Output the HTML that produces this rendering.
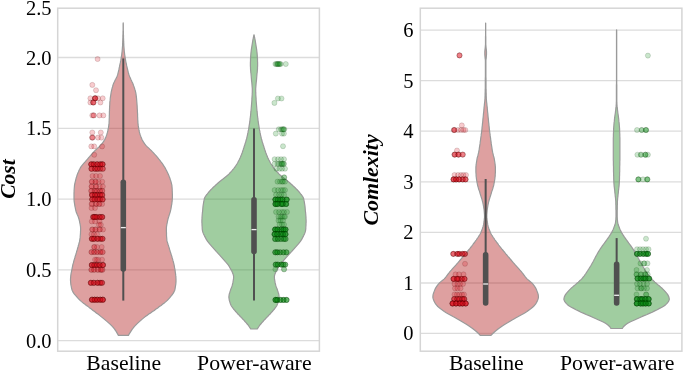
<!DOCTYPE html>
<html><head><meta charset="utf-8"><title>Violin plots</title>
<style>html,body{margin:0;padding:0;background:#fff;}body{width:685px;height:371px;overflow:hidden;font-family:"Liberation Serif",serif;}svg{display:block;}</style>
</head><body>
<svg width="685" height="371" viewBox="0 0 685 371">
<rect width="685" height="371" fill="#fff"/>
<line x1="57.7" x2="319.4" y1="57.5" y2="57.5" stroke="#dcdcdc" stroke-width="1.3"/>
<line x1="57.7" x2="319.4" y1="128.4" y2="128.4" stroke="#dcdcdc" stroke-width="1.3"/>
<line x1="57.7" x2="319.4" y1="199.2" y2="199.2" stroke="#dcdcdc" stroke-width="1.3"/>
<line x1="57.7" x2="319.4" y1="269.9" y2="269.9" stroke="#dcdcdc" stroke-width="1.3"/>
<line x1="57.7" x2="319.4" y1="340.7" y2="340.7" stroke="#dcdcdc" stroke-width="1.3"/>
<line x1="420.3" x2="681.9" y1="30.2" y2="30.2" stroke="#dcdcdc" stroke-width="1.3"/>
<line x1="420.3" x2="681.9" y1="80.7" y2="80.7" stroke="#dcdcdc" stroke-width="1.3"/>
<line x1="420.3" x2="681.9" y1="131.2" y2="131.2" stroke="#dcdcdc" stroke-width="1.3"/>
<line x1="420.3" x2="681.9" y1="181.8" y2="181.8" stroke="#dcdcdc" stroke-width="1.3"/>
<line x1="420.3" x2="681.9" y1="232.4" y2="232.4" stroke="#dcdcdc" stroke-width="1.3"/>
<line x1="420.3" x2="681.9" y1="283.0" y2="283.0" stroke="#dcdcdc" stroke-width="1.3"/>
<line x1="420.3" x2="681.9" y1="333.4" y2="333.4" stroke="#dcdcdc" stroke-width="1.3"/>
<path d="M123.2,22.9 L123.3,24.1 L123.3,25.4 L123.3,26.6 L123.3,27.9 L123.3,29.1 L123.3,30.4 L123.4,31.6 L123.4,32.9 L123.4,34.1 L123.5,35.4 L123.5,36.6 L123.5,37.9 L123.6,39.1 L123.6,40.4 L123.7,41.6 L123.7,42.9 L123.8,44.1 L123.8,45.4 L123.9,46.6 L124.0,47.9 L124.1,49.1 L124.2,50.4 L124.3,51.6 L124.5,52.9 L124.6,54.1 L124.8,55.4 L125.0,56.6 L125.2,57.9 L125.4,59.1 L125.6,60.4 L125.8,61.6 L126.1,62.9 L126.4,64.2 L126.6,65.4 L126.9,66.7 L127.2,67.9 L127.5,69.2 L127.8,70.4 L128.1,71.7 L128.4,72.9 L128.8,74.2 L129.2,75.4 L129.7,76.7 L130.3,77.9 L130.8,79.2 L131.4,80.4 L132.0,81.7 L132.6,82.9 L133.1,84.2 L133.5,85.4 L134.0,86.7 L134.4,87.9 L134.8,89.2 L135.2,90.4 L135.5,91.7 L135.8,92.9 L136.0,94.2 L136.2,95.4 L136.3,96.7 L136.5,97.9 L136.6,99.2 L136.7,100.4 L136.8,101.7 L136.9,102.9 L137.0,104.2 L137.1,105.4 L137.2,106.7 L137.2,107.9 L137.3,109.2 L137.4,110.4 L137.4,111.7 L137.5,112.9 L137.6,114.2 L137.6,115.4 L137.6,116.7 L137.7,117.9 L137.7,119.2 L137.8,120.4 L137.9,121.7 L137.9,122.9 L138.1,124.2 L138.2,125.4 L138.4,126.7 L138.6,127.9 L138.8,129.2 L139.1,130.4 L139.3,131.7 L139.6,132.9 L140.0,134.2 L140.4,135.4 L140.9,136.7 L141.4,137.9 L141.9,139.2 L142.5,140.4 L143.2,141.7 L144.0,142.9 L144.9,144.2 L145.8,145.4 L147.1,146.7 L148.5,147.9 L149.8,149.2 L151.1,150.4 L152.3,151.7 L153.5,152.9 L154.6,154.2 L155.8,155.4 L156.9,156.7 L157.9,157.9 L158.9,159.2 L159.9,160.4 L160.8,161.7 L161.8,162.9 L162.7,164.2 L163.5,165.4 L164.3,166.7 L165.1,167.9 L165.8,169.2 L166.4,170.4 L167.1,171.7 L167.7,172.9 L168.3,174.2 L168.8,175.4 L169.3,176.7 L169.8,177.9 L170.2,179.2 L170.6,180.4 L171.0,181.7 L171.3,182.9 L171.6,184.2 L171.9,185.4 L172.0,186.7 L172.1,187.9 L172.2,189.2 L172.2,190.4 L172.3,191.7 L172.3,192.9 L172.4,194.2 L172.4,195.4 L172.4,196.7 L172.4,197.9 L172.3,199.2 L172.2,200.4 L172.1,201.7 L171.9,202.9 L171.8,204.2 L171.5,205.4 L171.3,206.7 L171.1,207.9 L170.9,209.2 L170.6,210.4 L170.3,211.7 L169.9,212.9 L169.5,214.2 L169.1,215.4 L168.7,216.7 L168.3,217.9 L168.0,219.2 L167.7,220.4 L167.4,221.7 L167.2,222.9 L166.9,224.2 L166.7,225.4 L166.5,226.7 L166.4,227.9 L166.4,229.2 L166.4,230.4 L166.4,231.7 L166.5,232.9 L166.5,234.2 L166.5,235.4 L166.6,236.7 L166.7,237.9 L166.8,239.2 L166.9,240.4 L167.2,241.7 L167.6,242.9 L168.0,244.2 L168.4,245.4 L168.8,246.7 L169.2,247.9 L169.5,249.2 L169.9,250.4 L170.3,251.7 L170.7,252.9 L171.1,254.2 L171.5,255.4 L171.9,256.6 L172.2,257.9 L172.6,259.1 L172.9,260.4 L173.3,261.6 L173.6,262.9 L173.9,264.1 L174.2,265.4 L174.4,266.6 L174.6,267.9 L174.9,269.1 L175.1,270.4 L175.2,271.6 L175.4,272.9 L175.6,274.1 L175.7,275.4 L175.9,276.6 L175.9,277.9 L176.0,279.1 L176.0,280.4 L176.0,281.6 L175.9,282.9 L175.8,284.1 L175.6,285.4 L175.4,286.6 L175.2,287.9 L175.0,289.1 L174.7,290.4 L174.1,291.6 L173.5,292.9 L172.6,294.1 L171.7,295.4 L170.6,296.6 L169.6,297.9 L168.5,299.1 L167.3,300.4 L165.9,301.6 L164.4,302.9 L162.8,304.1 L161.1,305.4 L159.4,306.6 L157.7,307.9 L156.0,309.1 L154.3,310.4 L152.5,311.6 L150.6,312.9 L148.8,314.1 L147.0,315.4 L145.3,316.6 L143.7,317.9 L142.2,319.1 L140.8,320.4 L139.4,321.6 L138.0,322.9 L136.7,324.1 L135.5,325.4 L134.3,326.6 L133.3,327.9 L132.3,329.1 L131.5,330.4 L130.7,331.6 L129.9,332.9 L129.1,334.1 L128.4,335.4 L118.4,335.4 L117.7,334.1 L117.0,332.9 L116.3,331.6 L115.4,330.4 L114.6,329.1 L113.6,327.9 L112.5,326.6 L111.3,325.4 L110.0,324.1 L108.6,322.9 L107.2,321.6 L105.7,320.4 L104.2,319.1 L102.7,317.9 L101.1,316.6 L99.6,315.4 L97.9,314.1 L96.3,312.9 L94.6,311.6 L93.0,310.4 L91.3,309.1 L89.7,307.9 L88.1,306.6 L86.4,305.4 L84.7,304.1 L83.1,302.9 L81.5,301.6 L80.1,300.4 L78.8,299.1 L77.7,297.9 L76.6,296.6 L75.5,295.4 L74.4,294.1 L73.5,292.9 L72.8,291.6 L72.2,290.4 L71.8,289.1 L71.5,287.9 L71.3,286.6 L71.0,285.4 L70.8,284.1 L70.7,282.9 L70.6,281.6 L70.5,280.4 L70.5,279.1 L70.6,277.9 L70.7,276.6 L70.8,275.4 L71.0,274.1 L71.2,272.9 L71.5,271.6 L71.7,270.4 L72.0,269.1 L72.2,267.9 L72.5,266.6 L72.7,265.4 L73.0,264.1 L73.4,262.9 L73.7,261.6 L74.0,260.4 L74.4,259.1 L74.8,257.9 L75.1,256.6 L75.5,255.4 L75.9,254.2 L76.3,252.9 L76.6,251.7 L77.0,250.4 L77.4,249.2 L77.7,247.9 L78.1,246.7 L78.4,245.4 L78.8,244.2 L79.1,242.9 L79.5,241.7 L79.7,240.4 L79.9,239.2 L80.1,237.9 L80.2,236.7 L80.3,235.4 L80.4,234.2 L80.5,232.9 L80.5,231.7 L80.6,230.4 L80.6,229.2 L80.6,227.9 L80.5,226.7 L80.3,225.4 L80.1,224.2 L79.8,222.9 L79.6,221.7 L79.3,220.4 L79.0,219.2 L78.6,217.9 L78.2,216.7 L77.7,215.4 L77.1,214.2 L76.6,212.9 L76.1,211.7 L75.8,210.4 L75.5,209.2 L75.3,207.9 L75.0,206.7 L74.8,205.4 L74.6,204.2 L74.4,202.9 L74.2,201.7 L74.1,200.4 L74.0,199.2 L74.0,197.9 L74.0,196.7 L74.0,195.4 L74.0,194.2 L74.0,192.9 L74.1,191.7 L74.1,190.4 L74.2,189.2 L74.3,187.9 L74.4,186.7 L74.5,185.4 L74.7,184.2 L75.0,182.9 L75.3,181.7 L75.6,180.4 L75.9,179.2 L76.2,177.9 L76.6,176.7 L77.0,175.4 L77.4,174.2 L77.9,172.9 L78.5,171.7 L79.0,170.4 L79.7,169.2 L80.3,167.9 L81.1,166.7 L82.1,165.4 L83.1,164.2 L84.2,162.9 L85.3,161.7 L86.4,160.4 L87.5,159.2 L88.5,157.9 L89.6,156.7 L90.7,155.4 L91.8,154.2 L92.9,152.9 L94.0,151.7 L95.2,150.4 L96.5,149.2 L97.8,147.9 L99.3,146.7 L100.5,145.4 L101.6,144.2 L102.6,142.9 L103.5,141.7 L104.2,140.4 L104.9,139.2 L105.5,137.9 L106.0,136.7 L106.5,135.4 L106.9,134.2 L107.3,132.9 L107.6,131.7 L107.9,130.4 L108.1,129.2 L108.4,127.9 L108.6,126.7 L108.8,125.4 L109.0,124.2 L109.1,122.9 L109.1,121.7 L109.2,120.4 L109.2,119.2 L109.3,117.9 L109.3,116.7 L109.3,115.4 L109.4,114.2 L109.4,112.9 L109.4,111.7 L109.5,110.4 L109.5,109.2 L109.6,107.9 L109.6,106.7 L109.7,105.4 L109.8,104.2 L109.8,102.9 L109.9,101.7 L110.1,100.4 L110.2,99.2 L110.3,97.9 L110.5,96.7 L110.7,95.4 L110.9,94.2 L111.1,92.9 L111.3,91.7 L111.6,90.4 L111.9,89.2 L112.2,87.9 L112.6,86.7 L112.9,85.4 L113.3,84.2 L113.8,82.9 L114.4,81.7 L115.0,80.4 L115.7,79.2 L116.3,77.9 L116.9,76.7 L117.4,75.4 L117.8,74.2 L118.1,72.9 L118.4,71.7 L118.7,70.4 L119.0,69.2 L119.2,67.9 L119.5,66.7 L119.7,65.4 L120.0,64.2 L120.3,62.9 L120.5,61.6 L120.8,60.4 L121.0,59.1 L121.2,57.9 L121.4,56.6 L121.6,55.4 L121.8,54.1 L121.9,52.9 L122.1,51.6 L122.2,50.4 L122.3,49.1 L122.4,47.9 L122.5,46.6 L122.6,45.4 L122.6,44.1 L122.7,42.9 L122.7,41.6 L122.8,40.4 L122.8,39.1 L122.9,37.9 L122.9,36.6 L122.9,35.4 L123.0,34.1 L123.0,32.9 L123.0,31.6 L123.1,30.4 L123.1,29.1 L123.1,27.9 L123.1,26.6 L123.1,25.4 L123.1,24.1 L123.2,22.9Z" fill="rgb(178,34,34)" fill-opacity="0.43" stroke="#9a9a9a" stroke-width="1.2" stroke-linejoin="round"/>
<path d="M254.1,34.8 L254.3,36.1 L254.6,37.3 L254.8,38.6 L255.1,39.8 L255.3,41.1 L255.5,42.3 L255.7,43.6 L255.9,44.8 L256.1,46.1 L256.3,47.3 L256.5,48.6 L256.7,49.8 L256.8,51.1 L257.0,52.3 L257.1,53.6 L257.2,54.8 L257.3,56.1 L257.4,57.3 L257.5,58.6 L257.5,59.8 L257.5,61.1 L257.6,62.3 L257.6,63.6 L257.6,64.8 L257.6,66.1 L257.5,67.3 L257.5,68.6 L257.4,69.9 L257.3,71.1 L257.2,72.4 L257.0,73.6 L256.9,74.9 L256.8,76.1 L256.7,77.4 L256.6,78.6 L256.5,79.9 L256.4,81.1 L256.2,82.4 L256.1,83.6 L256.0,84.9 L255.9,86.1 L255.8,87.4 L255.7,88.6 L255.7,89.9 L255.7,91.1 L255.7,92.4 L255.8,93.6 L255.8,94.9 L255.9,96.1 L256.0,97.4 L256.1,98.6 L256.1,99.9 L256.2,101.2 L256.3,102.4 L256.4,103.7 L256.5,104.9 L256.6,106.2 L256.7,107.4 L256.8,108.7 L256.9,109.9 L257.0,111.2 L257.2,112.4 L257.3,113.7 L257.4,114.9 L257.5,116.2 L257.7,117.4 L257.8,118.7 L258.0,119.9 L258.1,121.2 L258.3,122.4 L258.5,123.7 L258.7,124.9 L258.9,126.2 L259.1,127.4 L259.3,128.7 L259.5,129.9 L259.8,131.2 L260.0,132.4 L260.3,133.7 L260.5,135.0 L260.8,136.2 L261.1,137.5 L261.4,138.7 L261.8,140.0 L262.1,141.2 L262.5,142.5 L262.9,143.7 L263.3,145.0 L263.7,146.2 L264.1,147.5 L264.5,148.7 L264.9,150.0 L265.3,151.2 L265.7,152.5 L266.2,153.7 L266.7,155.0 L267.2,156.2 L267.7,157.5 L268.3,158.7 L268.9,160.0 L269.6,161.2 L270.2,162.5 L270.9,163.7 L271.7,165.0 L272.5,166.3 L273.5,167.5 L274.4,168.8 L275.5,170.0 L276.5,171.3 L277.7,172.5 L278.9,173.8 L280.1,175.0 L281.6,176.3 L283.1,177.5 L284.7,178.8 L286.3,180.0 L287.9,181.3 L289.4,182.5 L290.8,183.8 L292.2,185.0 L293.5,186.3 L294.9,187.5 L296.2,188.8 L297.4,190.0 L298.6,191.3 L299.6,192.5 L300.6,193.8 L301.6,195.0 L302.5,196.3 L303.2,197.5 L303.7,198.8 L303.9,200.1 L304.2,201.3 L304.4,202.6 L304.6,203.8 L304.8,205.1 L305.0,206.3 L305.1,207.6 L305.2,208.8 L305.3,210.1 L305.4,211.3 L305.6,212.6 L305.7,213.8 L305.8,215.1 L305.9,216.3 L306.0,217.6 L306.0,218.8 L306.1,220.1 L306.1,221.3 L306.1,222.6 L306.0,223.8 L306.0,225.1 L305.9,226.3 L305.8,227.6 L305.8,228.8 L305.6,230.1 L305.4,231.4 L305.0,232.6 L304.5,233.9 L303.9,235.1 L303.3,236.4 L302.6,237.6 L302.0,238.9 L301.2,240.1 L300.4,241.4 L299.4,242.6 L298.4,243.9 L297.3,245.1 L296.2,246.4 L295.1,247.6 L294.0,248.9 L292.9,250.1 L291.8,251.4 L290.6,252.6 L289.5,253.9 L288.3,255.1 L287.2,256.4 L286.1,257.6 L285.0,258.9 L283.9,260.1 L282.8,261.4 L281.7,262.6 L280.6,263.9 L279.6,265.2 L278.8,266.4 L278.1,267.7 L277.4,268.9 L276.7,270.2 L276.0,271.4 L275.5,272.7 L275.0,273.9 L274.6,275.2 L274.4,276.4 L274.4,277.7 L274.5,278.9 L274.7,280.2 L274.9,281.4 L275.1,282.7 L275.4,283.9 L275.7,285.2 L276.1,286.4 L276.6,287.7 L277.1,288.9 L277.5,290.2 L277.9,291.4 L278.3,292.7 L278.7,293.9 L278.9,295.2 L279.1,296.5 L279.1,297.7 L278.9,299.0 L278.7,300.2 L278.3,301.5 L277.9,302.7 L277.5,304.0 L277.0,305.2 L276.3,306.5 L275.4,307.7 L274.5,309.0 L273.4,310.2 L272.3,311.5 L271.2,312.7 L270.1,314.0 L268.9,315.2 L267.7,316.5 L266.5,317.7 L265.3,319.0 L264.1,320.2 L263.0,321.5 L261.9,322.7 L260.8,324.0 L259.8,325.2 L258.9,326.5 L258.1,327.7 L257.3,329.0 L250.7,329.0 L249.9,327.7 L249.1,326.5 L248.2,325.2 L247.2,324.0 L246.1,322.7 L245.0,321.5 L243.9,320.2 L242.7,319.0 L241.5,317.7 L240.3,316.5 L239.1,315.2 L237.9,314.0 L236.8,312.7 L235.7,311.5 L234.6,310.2 L233.5,309.0 L232.6,307.7 L231.7,306.5 L231.0,305.2 L230.5,304.0 L230.1,302.7 L229.7,301.5 L229.3,300.2 L229.1,299.0 L228.9,297.7 L228.9,296.5 L229.1,295.2 L229.3,293.9 L229.7,292.7 L230.1,291.4 L230.5,290.2 L230.9,288.9 L231.4,287.7 L231.9,286.4 L232.3,285.2 L232.6,283.9 L232.9,282.7 L233.1,281.4 L233.3,280.2 L233.5,278.9 L233.6,277.7 L233.6,276.4 L233.4,275.2 L233.0,273.9 L232.5,272.7 L232.0,271.4 L231.3,270.2 L230.6,268.9 L229.9,267.7 L229.2,266.4 L228.4,265.2 L227.4,263.9 L226.3,262.6 L225.2,261.4 L224.1,260.1 L223.0,258.9 L221.9,257.6 L220.8,256.4 L219.7,255.1 L218.5,253.9 L217.4,252.6 L216.2,251.4 L215.1,250.1 L214.0,248.9 L212.9,247.6 L211.8,246.4 L210.7,245.1 L209.6,243.9 L208.6,242.6 L207.6,241.4 L206.8,240.1 L206.0,238.9 L205.4,237.6 L204.7,236.4 L204.1,235.1 L203.5,233.9 L203.0,232.6 L202.6,231.4 L202.4,230.1 L202.2,228.8 L202.2,227.6 L202.1,226.3 L202.0,225.1 L202.0,223.8 L201.9,222.6 L201.9,221.3 L201.9,220.1 L202.0,218.8 L202.0,217.6 L202.1,216.3 L202.2,215.1 L202.3,213.8 L202.4,212.6 L202.6,211.3 L202.7,210.1 L202.8,208.8 L202.9,207.6 L203.0,206.3 L203.2,205.1 L203.4,203.8 L203.6,202.6 L203.8,201.3 L204.1,200.1 L204.3,198.8 L204.8,197.5 L205.5,196.3 L206.4,195.0 L207.4,193.8 L208.4,192.5 L209.4,191.3 L210.6,190.0 L211.8,188.8 L213.1,187.5 L214.5,186.3 L215.8,185.0 L217.2,183.8 L218.6,182.5 L220.1,181.3 L221.7,180.0 L223.3,178.8 L224.9,177.5 L226.4,176.3 L227.9,175.0 L229.1,173.8 L230.3,172.5 L231.5,171.3 L232.5,170.0 L233.6,168.8 L234.5,167.5 L235.5,166.3 L236.3,165.0 L237.1,163.7 L237.8,162.5 L238.4,161.2 L239.1,160.0 L239.7,158.7 L240.3,157.5 L240.8,156.2 L241.3,155.0 L241.8,153.7 L242.3,152.5 L242.7,151.2 L243.1,150.0 L243.5,148.7 L243.9,147.5 L244.3,146.2 L244.7,145.0 L245.1,143.7 L245.5,142.5 L245.9,141.2 L246.2,140.0 L246.6,138.7 L246.9,137.5 L247.2,136.2 L247.5,135.0 L247.7,133.7 L248.0,132.4 L248.2,131.2 L248.5,129.9 L248.7,128.7 L248.9,127.4 L249.1,126.2 L249.3,124.9 L249.5,123.7 L249.7,122.4 L249.9,121.2 L250.0,119.9 L250.2,118.7 L250.3,117.4 L250.5,116.2 L250.6,114.9 L250.7,113.7 L250.8,112.4 L251.0,111.2 L251.1,109.9 L251.2,108.7 L251.3,107.4 L251.4,106.2 L251.5,104.9 L251.6,103.7 L251.7,102.4 L251.8,101.2 L251.9,99.9 L251.9,98.6 L252.0,97.4 L252.1,96.1 L252.2,94.9 L252.2,93.6 L252.3,92.4 L252.3,91.1 L252.3,89.9 L252.3,88.6 L252.2,87.4 L252.1,86.1 L252.0,84.9 L251.9,83.6 L251.8,82.4 L251.6,81.1 L251.5,79.9 L251.4,78.6 L251.3,77.4 L251.2,76.1 L251.1,74.9 L251.0,73.6 L250.8,72.4 L250.7,71.1 L250.6,69.9 L250.5,68.6 L250.5,67.3 L250.4,66.1 L250.4,64.8 L250.4,63.6 L250.4,62.3 L250.5,61.1 L250.5,59.8 L250.5,58.6 L250.6,57.3 L250.7,56.1 L250.8,54.8 L250.9,53.6 L251.0,52.3 L251.2,51.1 L251.3,49.8 L251.5,48.6 L251.7,47.3 L251.9,46.1 L252.1,44.8 L252.3,43.6 L252.5,42.3 L252.7,41.1 L252.9,39.8 L253.2,38.6 L253.4,37.3 L253.7,36.1 L253.9,34.8Z" fill="rgb(34,139,34)" fill-opacity="0.43" stroke="#9a9a9a" stroke-width="1.2" stroke-linejoin="round"/>
<path d="M485.7,23.0 L485.7,24.3 L485.7,25.5 L485.7,26.8 L485.7,28.0 L485.7,29.3 L485.7,30.5 L485.7,31.8 L485.7,33.0 L485.7,34.3 L485.7,35.5 L485.8,36.8 L485.8,38.1 L485.8,39.3 L485.8,40.6 L485.8,41.8 L485.8,43.1 L485.8,44.3 L485.9,45.6 L486.0,46.8 L486.1,48.1 L486.3,49.3 L486.4,50.6 L486.5,51.8 L486.5,53.1 L486.5,54.4 L486.4,55.6 L486.3,56.9 L486.2,58.1 L486.0,59.4 L485.9,60.6 L485.9,61.9 L485.9,63.1 L485.9,64.4 L485.9,65.6 L485.9,66.9 L485.9,68.2 L485.9,69.4 L485.9,70.7 L485.9,71.9 L485.9,73.2 L485.9,74.4 L485.9,75.7 L485.9,76.9 L486.0,78.2 L486.0,79.4 L486.0,80.7 L486.0,81.9 L486.0,83.2 L486.0,84.5 L486.0,85.7 L486.0,87.0 L486.0,88.2 L486.1,89.5 L486.1,90.7 L486.1,92.0 L486.2,93.2 L486.2,94.5 L486.2,95.7 L486.3,97.0 L486.3,98.3 L486.4,99.5 L486.5,100.8 L486.6,102.0 L486.8,103.3 L486.9,104.5 L487.0,105.8 L487.2,107.0 L487.3,108.3 L487.4,109.5 L487.5,110.8 L487.6,112.0 L487.8,113.3 L487.9,114.6 L488.0,115.8 L488.1,117.1 L488.3,118.3 L488.4,119.6 L488.5,120.8 L488.6,122.1 L488.8,123.3 L488.9,124.6 L489.0,125.8 L489.2,127.1 L489.3,128.4 L489.4,129.6 L489.6,130.9 L489.7,132.1 L489.9,133.4 L490.1,134.6 L490.2,135.9 L490.4,137.1 L490.6,138.4 L490.7,139.6 L490.9,140.9 L491.1,142.2 L491.2,143.4 L491.4,144.7 L491.6,145.9 L491.8,147.2 L492.0,148.4 L492.1,149.7 L492.4,150.9 L492.6,152.2 L492.9,153.4 L493.2,154.7 L493.5,155.9 L493.9,157.2 L494.2,158.5 L494.4,159.7 L494.6,161.0 L494.8,162.2 L495.0,163.5 L495.1,164.7 L495.3,166.0 L495.4,167.2 L495.4,168.5 L495.4,169.7 L495.4,171.0 L495.4,172.3 L495.3,173.5 L495.2,174.8 L495.2,176.0 L495.0,177.3 L494.9,178.5 L494.7,179.8 L494.5,181.0 L494.3,182.3 L494.0,183.5 L493.8,184.8 L493.5,186.0 L493.1,187.3 L492.8,188.6 L492.4,189.8 L491.9,191.1 L491.5,192.3 L491.2,193.6 L490.8,194.8 L490.4,196.1 L490.0,197.3 L489.6,198.6 L489.2,199.8 L488.9,201.1 L488.5,202.4 L488.3,203.6 L488.0,204.9 L487.8,206.1 L487.6,207.4 L487.4,208.6 L487.2,209.9 L487.1,211.1 L487.0,212.4 L486.9,213.6 L486.8,214.9 L486.8,216.1 L486.8,217.4 L486.9,218.7 L487.1,219.9 L487.2,221.2 L487.4,222.4 L487.6,223.7 L487.8,224.9 L488.1,226.2 L488.5,227.4 L488.9,228.7 L489.4,229.9 L489.9,231.2 L490.4,232.5 L491.0,233.7 L491.7,235.0 L492.5,236.2 L493.3,237.5 L494.2,238.7 L495.0,240.0 L495.9,241.2 L496.8,242.5 L497.8,243.7 L498.7,245.0 L499.7,246.3 L500.7,247.5 L501.7,248.8 L502.7,250.0 L503.8,251.3 L504.8,252.5 L505.8,253.8 L506.9,255.0 L507.9,256.3 L509.0,257.5 L510.1,258.8 L511.1,260.0 L512.2,261.3 L513.3,262.6 L514.4,263.8 L515.5,265.1 L516.6,266.3 L517.8,267.6 L518.9,268.8 L520.0,270.1 L521.1,271.3 L522.1,272.6 L523.1,273.8 L524.0,275.1 L524.9,276.4 L525.9,277.6 L527.0,278.9 L528.4,280.1 L530.1,281.4 L531.6,282.6 L532.7,283.9 L533.7,285.1 L534.6,286.4 L535.4,287.6 L536.1,288.9 L536.6,290.1 L537.1,291.4 L537.6,292.7 L538.0,293.9 L538.3,295.2 L538.4,296.4 L538.4,297.7 L538.1,298.9 L537.6,300.2 L537.1,301.4 L536.4,302.7 L535.7,303.9 L534.7,305.2 L533.5,306.5 L532.0,307.7 L530.4,309.0 L528.7,310.2 L527.0,311.5 L525.1,312.7 L522.9,314.0 L520.6,315.2 L518.3,316.5 L516.0,317.7 L513.9,319.0 L511.7,320.2 L509.6,321.5 L507.5,322.8 L505.4,324.0 L503.4,325.3 L501.6,326.5 L499.8,327.8 L498.1,329.0 L496.5,330.3 L495.0,331.5 L493.6,332.8 L492.3,334.0 L491.0,335.3 L480.2,335.3 L479.0,334.0 L477.7,332.8 L476.3,331.5 L474.8,330.3 L473.2,329.0 L471.5,327.8 L469.7,326.5 L467.9,325.3 L465.9,324.0 L463.8,322.8 L461.7,321.5 L459.6,320.2 L457.4,319.0 L455.3,317.7 L453.0,316.5 L450.7,315.2 L448.4,314.0 L446.2,312.7 L444.3,311.5 L442.6,310.2 L440.9,309.0 L439.3,307.7 L437.8,306.5 L436.6,305.2 L435.6,303.9 L434.9,302.7 L434.2,301.4 L433.7,300.2 L433.2,298.9 L432.9,297.7 L432.9,296.4 L433.0,295.2 L433.3,293.9 L433.7,292.7 L434.2,291.4 L434.7,290.1 L435.2,288.9 L435.9,287.6 L436.7,286.4 L437.6,285.1 L438.6,283.9 L439.7,282.6 L441.2,281.4 L442.9,280.1 L444.3,278.9 L445.4,277.6 L446.4,276.4 L447.3,275.1 L448.2,273.8 L449.2,272.6 L450.2,271.3 L451.3,270.1 L452.4,268.8 L453.5,267.6 L454.7,266.3 L455.8,265.1 L456.9,263.8 L458.0,262.6 L459.1,261.3 L460.2,260.0 L461.2,258.8 L462.3,257.5 L463.4,256.3 L464.4,255.0 L465.5,253.8 L466.5,252.5 L467.5,251.3 L468.6,250.0 L469.6,248.8 L470.6,247.5 L471.6,246.3 L472.6,245.0 L473.5,243.7 L474.5,242.5 L475.4,241.2 L476.3,240.0 L477.1,238.7 L478.0,237.5 L478.8,236.2 L479.6,235.0 L480.3,233.7 L480.9,232.5 L481.4,231.2 L481.9,229.9 L482.4,228.7 L482.8,227.4 L483.2,226.2 L483.5,224.9 L483.7,223.7 L483.9,222.4 L484.1,221.2 L484.2,219.9 L484.4,218.7 L484.5,217.4 L484.5,216.1 L484.5,214.9 L484.4,213.6 L484.3,212.4 L484.2,211.1 L484.1,209.9 L483.9,208.6 L483.7,207.4 L483.5,206.1 L483.3,204.9 L483.0,203.6 L482.8,202.4 L482.4,201.1 L482.1,199.8 L481.7,198.6 L481.3,197.3 L480.9,196.1 L480.5,194.8 L480.1,193.6 L479.8,192.3 L479.4,191.1 L478.9,189.8 L478.5,188.6 L478.2,187.3 L477.8,186.0 L477.5,184.8 L477.3,183.5 L477.0,182.3 L476.8,181.0 L476.6,179.8 L476.4,178.5 L476.3,177.3 L476.1,176.0 L476.1,174.8 L476.0,173.5 L475.9,172.3 L475.9,171.0 L475.9,169.7 L475.9,168.5 L475.9,167.2 L476.0,166.0 L476.2,164.7 L476.3,163.5 L476.5,162.2 L476.7,161.0 L476.9,159.7 L477.1,158.5 L477.4,157.2 L477.8,155.9 L478.1,154.7 L478.4,153.4 L478.7,152.2 L478.9,150.9 L479.2,149.7 L479.3,148.4 L479.5,147.2 L479.7,145.9 L479.9,144.7 L480.1,143.4 L480.2,142.2 L480.4,140.9 L480.6,139.6 L480.7,138.4 L480.9,137.1 L481.1,135.9 L481.2,134.6 L481.4,133.4 L481.6,132.1 L481.7,130.9 L481.9,129.6 L482.0,128.4 L482.1,127.1 L482.3,125.8 L482.4,124.6 L482.5,123.3 L482.7,122.1 L482.8,120.8 L482.9,119.6 L483.0,118.3 L483.2,117.1 L483.3,115.8 L483.4,114.6 L483.5,113.3 L483.7,112.0 L483.8,110.8 L483.9,109.5 L484.0,108.3 L484.1,107.0 L484.3,105.8 L484.4,104.5 L484.5,103.3 L484.7,102.0 L484.8,100.8 L484.9,99.5 L485.0,98.3 L485.0,97.0 L485.1,95.7 L485.1,94.5 L485.1,93.2 L485.2,92.0 L485.2,90.7 L485.2,89.5 L485.3,88.2 L485.3,87.0 L485.3,85.7 L485.3,84.5 L485.3,83.2 L485.3,81.9 L485.3,80.7 L485.3,79.4 L485.3,78.2 L485.4,76.9 L485.4,75.7 L485.4,74.4 L485.4,73.2 L485.4,71.9 L485.4,70.7 L485.4,69.4 L485.4,68.2 L485.4,66.9 L485.4,65.6 L485.4,64.4 L485.4,63.1 L485.4,61.9 L485.4,60.6 L485.3,59.4 L485.1,58.1 L485.0,56.9 L484.9,55.6 L484.8,54.4 L484.8,53.1 L484.8,51.8 L484.9,50.6 L485.0,49.3 L485.2,48.1 L485.3,46.8 L485.4,45.6 L485.5,44.3 L485.5,43.1 L485.5,41.8 L485.5,40.6 L485.5,39.3 L485.5,38.1 L485.5,36.8 L485.6,35.5 L485.6,34.3 L485.6,33.0 L485.6,31.8 L485.6,30.5 L485.6,29.3 L485.6,28.0 L485.6,26.8 L485.6,25.5 L485.6,24.3 L485.6,23.0Z" fill="rgb(178,34,34)" fill-opacity="0.43" stroke="#9a9a9a" stroke-width="1.2" stroke-linejoin="round"/>
<path d="M616.6,29.8 L616.7,31.1 L616.7,32.3 L616.7,33.6 L616.7,34.8 L616.7,36.1 L616.7,37.3 L616.7,38.6 L616.7,39.8 L616.7,41.1 L616.7,42.4 L616.7,43.6 L616.7,44.9 L616.7,46.1 L616.7,47.4 L616.7,48.6 L616.7,49.9 L616.7,51.1 L616.7,52.4 L616.7,53.6 L616.7,54.9 L616.7,56.2 L616.7,57.4 L616.7,58.7 L616.7,59.9 L616.7,61.2 L616.7,62.4 L616.7,63.7 L616.7,64.9 L616.7,66.2 L616.7,67.5 L616.7,68.7 L616.7,70.0 L616.7,71.2 L616.7,72.5 L616.7,73.7 L616.7,75.0 L616.7,76.2 L616.7,77.5 L616.7,78.7 L616.7,80.0 L616.7,81.3 L616.7,82.5 L616.7,83.8 L616.8,85.0 L616.8,86.3 L616.8,87.5 L616.8,88.8 L616.8,90.0 L616.8,91.3 L616.8,92.6 L616.8,93.8 L616.8,95.1 L616.8,96.3 L616.8,97.6 L616.8,98.8 L616.8,100.1 L616.8,101.3 L616.9,102.6 L616.9,103.8 L617.0,105.1 L617.1,106.4 L617.3,107.6 L617.4,108.9 L617.5,110.1 L617.7,111.4 L617.8,112.6 L618.0,113.9 L618.2,115.1 L618.4,116.4 L618.5,117.7 L618.7,118.9 L618.8,120.2 L618.9,121.4 L619.1,122.7 L619.2,123.9 L619.3,125.2 L619.4,126.4 L619.5,127.7 L619.6,128.9 L619.6,130.2 L619.7,131.5 L619.7,132.7 L619.8,134.0 L619.8,135.2 L619.8,136.5 L619.9,137.7 L619.9,139.0 L619.9,140.2 L619.9,141.5 L619.9,142.8 L619.9,144.0 L619.9,145.3 L619.9,146.5 L619.9,147.8 L619.9,149.0 L619.9,150.3 L619.9,151.5 L619.9,152.8 L619.9,154.0 L619.9,155.3 L619.9,156.6 L619.9,157.8 L619.9,159.1 L619.9,160.3 L619.8,161.6 L619.8,162.8 L619.8,164.1 L619.8,165.3 L619.7,166.6 L619.7,167.9 L619.7,169.1 L619.7,170.4 L619.7,171.6 L619.6,172.9 L619.6,174.1 L619.6,175.4 L619.5,176.6 L619.5,177.9 L619.5,179.2 L619.4,180.4 L619.4,181.7 L619.3,182.9 L619.2,184.2 L619.1,185.4 L619.0,186.7 L618.8,187.9 L618.7,189.2 L618.5,190.4 L618.4,191.7 L618.3,193.0 L618.1,194.2 L618.0,195.5 L617.9,196.7 L617.7,198.0 L617.6,199.2 L617.5,200.5 L617.4,201.7 L617.4,203.0 L617.4,204.3 L617.3,205.5 L617.3,206.8 L617.3,208.0 L617.3,209.3 L617.2,210.5 L617.2,211.8 L617.2,213.0 L617.2,214.3 L617.2,215.5 L617.2,216.8 L617.3,218.1 L617.3,219.3 L617.5,220.6 L617.6,221.8 L617.8,223.1 L618.1,224.3 L618.5,225.6 L619.0,226.8 L619.5,228.1 L620.0,229.4 L620.6,230.6 L621.2,231.9 L621.9,233.1 L622.7,234.4 L623.5,235.6 L624.3,236.9 L625.2,238.1 L626.1,239.4 L627.0,240.6 L627.9,241.9 L628.8,243.2 L629.7,244.4 L630.7,245.7 L631.5,246.9 L632.4,248.2 L633.2,249.4 L634.0,250.7 L634.8,251.9 L635.6,253.2 L636.3,254.5 L637.0,255.7 L637.7,257.0 L638.3,258.2 L639.0,259.5 L639.6,260.7 L640.3,262.0 L641.0,263.2 L641.7,264.5 L642.4,265.7 L643.2,267.0 L644.0,268.3 L644.8,269.5 L645.6,270.8 L646.4,272.0 L647.2,273.3 L648.1,274.5 L649.0,275.8 L649.9,277.0 L651.0,278.3 L652.2,279.6 L653.6,280.8 L654.9,282.1 L656.3,283.3 L657.7,284.6 L659.2,285.8 L660.7,287.1 L662.1,288.3 L663.4,289.6 L664.6,290.8 L665.7,292.1 L666.8,293.4 L667.7,294.6 L668.4,295.9 L668.9,297.1 L669.2,298.4 L669.3,299.6 L668.8,300.9 L668.0,302.1 L667.0,303.4 L665.7,304.7 L664.0,305.9 L661.9,307.2 L659.6,308.4 L657.2,309.7 L654.7,310.9 L652.2,312.2 L649.4,313.4 L646.5,314.7 L643.5,315.9 L640.6,317.2 L637.8,318.5 L635.1,319.7 L632.2,321.0 L629.5,322.2 L627.3,323.5 L625.6,324.7 L624.2,326.0 L623.1,327.2 L622.3,328.5 L610.9,328.5 L610.1,327.2 L609.0,326.0 L607.6,324.7 L605.9,323.5 L603.7,322.2 L601.0,321.0 L598.1,319.7 L595.4,318.5 L592.6,317.2 L589.7,315.9 L586.7,314.7 L583.8,313.4 L581.0,312.2 L578.5,310.9 L576.0,309.7 L573.6,308.4 L571.3,307.2 L569.2,305.9 L567.5,304.7 L566.2,303.4 L565.2,302.1 L564.4,300.9 L563.9,299.6 L564.0,298.4 L564.3,297.1 L564.8,295.9 L565.5,294.6 L566.4,293.4 L567.5,292.1 L568.6,290.8 L569.8,289.6 L571.1,288.3 L572.5,287.1 L574.0,285.8 L575.5,284.6 L576.9,283.3 L578.3,282.1 L579.6,280.8 L581.0,279.6 L582.2,278.3 L583.3,277.0 L584.2,275.8 L585.1,274.5 L586.0,273.3 L586.8,272.0 L587.6,270.8 L588.4,269.5 L589.2,268.3 L590.0,267.0 L590.8,265.7 L591.5,264.5 L592.2,263.2 L592.9,262.0 L593.6,260.7 L594.2,259.5 L594.9,258.2 L595.5,257.0 L596.2,255.7 L596.9,254.5 L597.6,253.2 L598.4,251.9 L599.2,250.7 L600.0,249.4 L600.8,248.2 L601.7,246.9 L602.5,245.7 L603.5,244.4 L604.4,243.2 L605.3,241.9 L606.2,240.6 L607.1,239.4 L608.0,238.1 L608.9,236.9 L609.7,235.6 L610.5,234.4 L611.3,233.1 L612.0,231.9 L612.6,230.6 L613.2,229.4 L613.7,228.1 L614.2,226.8 L614.7,225.6 L615.1,224.3 L615.4,223.1 L615.6,221.8 L615.7,220.6 L615.9,219.3 L615.9,218.1 L616.0,216.8 L616.0,215.5 L616.0,214.3 L616.0,213.0 L616.0,211.8 L616.0,210.5 L615.9,209.3 L615.9,208.0 L615.9,206.8 L615.9,205.5 L615.8,204.3 L615.8,203.0 L615.8,201.7 L615.7,200.5 L615.6,199.2 L615.5,198.0 L615.3,196.7 L615.2,195.5 L615.1,194.2 L614.9,193.0 L614.8,191.7 L614.7,190.4 L614.5,189.2 L614.4,187.9 L614.2,186.7 L614.1,185.4 L614.0,184.2 L613.9,182.9 L613.8,181.7 L613.8,180.4 L613.7,179.2 L613.7,177.9 L613.7,176.6 L613.6,175.4 L613.6,174.1 L613.6,172.9 L613.5,171.6 L613.5,170.4 L613.5,169.1 L613.5,167.9 L613.5,166.6 L613.4,165.3 L613.4,164.1 L613.4,162.8 L613.4,161.6 L613.3,160.3 L613.3,159.1 L613.3,157.8 L613.3,156.6 L613.3,155.3 L613.3,154.0 L613.3,152.8 L613.3,151.5 L613.3,150.3 L613.3,149.0 L613.3,147.8 L613.3,146.5 L613.3,145.3 L613.3,144.0 L613.3,142.8 L613.3,141.5 L613.3,140.2 L613.3,139.0 L613.3,137.7 L613.4,136.5 L613.4,135.2 L613.4,134.0 L613.5,132.7 L613.5,131.5 L613.6,130.2 L613.6,128.9 L613.7,127.7 L613.8,126.4 L613.9,125.2 L614.0,123.9 L614.1,122.7 L614.3,121.4 L614.4,120.2 L614.5,118.9 L614.7,117.7 L614.8,116.4 L615.0,115.1 L615.2,113.9 L615.4,112.6 L615.5,111.4 L615.7,110.1 L615.8,108.9 L615.9,107.6 L616.1,106.4 L616.2,105.1 L616.3,103.8 L616.3,102.6 L616.4,101.3 L616.4,100.1 L616.4,98.8 L616.4,97.6 L616.4,96.3 L616.4,95.1 L616.4,93.8 L616.4,92.6 L616.4,91.3 L616.4,90.0 L616.4,88.8 L616.4,87.5 L616.4,86.3 L616.4,85.0 L616.5,83.8 L616.5,82.5 L616.5,81.3 L616.5,80.0 L616.5,78.7 L616.5,77.5 L616.5,76.2 L616.5,75.0 L616.5,73.7 L616.5,72.5 L616.5,71.2 L616.5,70.0 L616.5,68.7 L616.5,67.5 L616.5,66.2 L616.5,64.9 L616.5,63.7 L616.5,62.4 L616.5,61.2 L616.5,59.9 L616.5,58.7 L616.5,57.4 L616.5,56.2 L616.5,54.9 L616.5,53.6 L616.5,52.4 L616.5,51.1 L616.5,49.9 L616.5,48.6 L616.5,47.4 L616.5,46.1 L616.5,44.9 L616.5,43.6 L616.5,42.4 L616.5,41.1 L616.5,39.8 L616.5,38.6 L616.5,37.3 L616.5,36.1 L616.5,34.8 L616.5,33.6 L616.5,32.3 L616.5,31.1 L616.6,29.8Z" fill="rgb(34,139,34)" fill-opacity="0.43" stroke="#9a9a9a" stroke-width="1.2" stroke-linejoin="round"/>
<line x1="123.3" x2="123.3" y1="58.4" y2="300.6" stroke="#505050" stroke-width="2"/>
<rect x="120.50" y="179.6" width="5.6" height="92.2" rx="2.7" fill="#505050"/>
<line x1="120.80" x2="125.80" y1="227.6" y2="227.6" stroke="#efefef" stroke-width="1.3"/>
<line x1="254.0" x2="254.0" y1="128.5" y2="300.6" stroke="#505050" stroke-width="2"/>
<rect x="251.20" y="197.0" width="5.6" height="57.3" rx="2.7" fill="#505050"/>
<line x1="251.50" x2="256.50" y1="229.6" y2="229.6" stroke="#efefef" stroke-width="1.3"/>
<line x1="485.65" x2="485.65" y1="179" y2="305" stroke="#505050" stroke-width="2"/>
<rect x="482.85" y="252" width="5.6" height="53.8" rx="2.7" fill="#505050"/>
<line x1="483.15" x2="488.15" y1="284.0" y2="284.0" stroke="#efefef" stroke-width="1.3"/>
<line x1="616.65" x2="616.65" y1="238.1" y2="305" stroke="#505050" stroke-width="2"/>
<rect x="613.85" y="261.5" width="5.6" height="44.3" rx="2.7" fill="#505050"/>
<line x1="614.15" x2="619.15" y1="295.3" y2="295.3" stroke="#efefef" stroke-width="1.3"/>
<g fill="rgb(222,20,30)" fill-opacity="0.22" stroke="rgb(60,0,0)" stroke-opacity="0.27" stroke-width="0.55"><circle cx="97.6" cy="59.0" r="2.55"/><circle cx="92.3" cy="84.9" r="2.55"/><circle cx="96.0" cy="90.2" r="2.55"/><circle cx="90.4" cy="98.3" r="2.55"/><circle cx="94.8" cy="98.3" r="2.55"/><circle cx="95.1" cy="98.3" r="2.55"/><circle cx="95.4" cy="98.3" r="2.55"/><circle cx="95.1" cy="98.3" r="2.55"/><circle cx="95.2" cy="98.3" r="2.55"/><circle cx="98.0" cy="98.3" r="2.55"/><circle cx="102.7" cy="98.3" r="2.55"/><circle cx="90.4" cy="102.5" r="2.55"/><circle cx="93.0" cy="102.5" r="2.55"/><circle cx="93.2" cy="102.5" r="2.55"/><circle cx="93.4" cy="102.5" r="2.55"/><circle cx="93.6" cy="102.5" r="2.55"/><circle cx="100.4" cy="102.5" r="2.55"/><circle cx="92.3" cy="115.4" r="2.55"/><circle cx="93.8" cy="115.4" r="2.55"/><circle cx="93.6" cy="115.4" r="2.55"/><circle cx="99.5" cy="115.4" r="2.55"/><circle cx="103.3" cy="115.4" r="2.55"/><circle cx="92.3" cy="132.5" r="2.55"/><circle cx="100.8" cy="132.5" r="2.55"/><circle cx="92.0" cy="137.6" r="2.55"/><circle cx="92.3" cy="137.6" r="2.55"/><circle cx="92.8" cy="137.6" r="2.55"/><circle cx="98.0" cy="137.6" r="2.55"/><circle cx="101.4" cy="137.6" r="2.55"/><circle cx="91.3" cy="146.4" r="2.55"/><circle cx="94.2" cy="146.4" r="2.55"/><circle cx="102.1" cy="146.4" r="2.55"/><circle cx="94.2" cy="154.8" r="2.55"/><circle cx="91.2" cy="164.3" r="2.55"/><circle cx="93.5" cy="164.3" r="2.55"/><circle cx="97.1" cy="164.3" r="2.55"/><circle cx="100.5" cy="164.3" r="2.55"/><circle cx="102.8" cy="164.3" r="2.55"/><circle cx="91.4" cy="164.3" r="2.55"/><circle cx="93.5" cy="164.3" r="2.55"/><circle cx="97.4" cy="164.3" r="2.55"/><circle cx="100.5" cy="164.3" r="2.55"/><circle cx="102.4" cy="164.3" r="2.55"/><circle cx="91.3" cy="164.3" r="2.55"/><circle cx="93.5" cy="164.3" r="2.55"/><circle cx="96.9" cy="164.3" r="2.55"/><circle cx="100.2" cy="164.3" r="2.55"/><circle cx="102.4" cy="164.3" r="2.55"/><circle cx="91.4" cy="164.3" r="2.55"/><circle cx="94.0" cy="164.3" r="2.55"/><circle cx="97.1" cy="164.3" r="2.55"/><circle cx="100.2" cy="164.3" r="2.55"/><circle cx="102.4" cy="164.3" r="2.55"/><circle cx="91.0" cy="164.3" r="2.55"/><circle cx="93.9" cy="164.3" r="2.55"/><circle cx="97.2" cy="164.3" r="2.55"/><circle cx="100.0" cy="164.3" r="2.55"/><circle cx="102.6" cy="164.3" r="2.55"/><circle cx="91.8" cy="168.8" r="2.55"/><circle cx="95.2" cy="168.8" r="2.55"/><circle cx="97.4" cy="168.8" r="2.55"/><circle cx="99.9" cy="168.8" r="2.55"/><circle cx="103.0" cy="168.8" r="2.55"/><circle cx="91.3" cy="168.8" r="2.55"/><circle cx="94.9" cy="168.8" r="2.55"/><circle cx="97.2" cy="168.8" r="2.55"/><circle cx="100.0" cy="168.8" r="2.55"/><circle cx="102.5" cy="168.8" r="2.55"/><circle cx="91.4" cy="168.8" r="2.55"/><circle cx="95.1" cy="168.8" r="2.55"/><circle cx="97.7" cy="168.8" r="2.55"/><circle cx="100.3" cy="168.8" r="2.55"/><circle cx="102.8" cy="168.8" r="2.55"/><circle cx="91.6" cy="168.8" r="2.55"/><circle cx="94.9" cy="168.8" r="2.55"/><circle cx="97.3" cy="168.8" r="2.55"/><circle cx="92.5" cy="176.0" r="2.55"/><circle cx="96.0" cy="176.0" r="2.55"/><circle cx="100.0" cy="176.0" r="2.55"/><circle cx="91.8" cy="181.7" r="2.55"/><circle cx="95.6" cy="181.7" r="2.55"/><circle cx="98.5" cy="181.7" r="2.55"/><circle cx="102.2" cy="181.7" r="2.55"/><circle cx="91.9" cy="181.7" r="2.55"/><circle cx="95.6" cy="181.7" r="2.55"/><circle cx="91.7" cy="186.5" r="2.55"/><circle cx="95.9" cy="186.5" r="2.55"/><circle cx="99.7" cy="186.5" r="2.55"/><circle cx="102.8" cy="186.5" r="2.55"/><circle cx="91.6" cy="186.5" r="2.55"/><circle cx="96.1" cy="186.5" r="2.55"/><circle cx="91.2" cy="190.9" r="2.55"/><circle cx="94.8" cy="190.9" r="2.55"/><circle cx="97.0" cy="190.9" r="2.55"/><circle cx="100.0" cy="190.9" r="2.55"/><circle cx="102.2" cy="190.9" r="2.55"/><circle cx="91.4" cy="190.9" r="2.55"/><circle cx="94.5" cy="190.9" r="2.55"/><circle cx="96.8" cy="190.9" r="2.55"/><circle cx="100.1" cy="190.9" r="2.55"/><circle cx="102.3" cy="190.9" r="2.55"/><circle cx="92.2" cy="195.0" r="2.55"/><circle cx="94.9" cy="195.0" r="2.55"/><circle cx="97.4" cy="195.0" r="2.55"/><circle cx="100.1" cy="195.0" r="2.55"/><circle cx="102.3" cy="195.0" r="2.55"/><circle cx="92.1" cy="195.0" r="2.55"/><circle cx="95.0" cy="195.0" r="2.55"/><circle cx="97.3" cy="195.0" r="2.55"/><circle cx="100.1" cy="195.0" r="2.55"/><circle cx="102.5" cy="195.0" r="2.55"/><circle cx="91.9" cy="195.0" r="2.55"/><circle cx="94.9" cy="195.0" r="2.55"/><circle cx="97.2" cy="195.0" r="2.55"/><circle cx="100.1" cy="195.0" r="2.55"/><circle cx="102.0" cy="195.0" r="2.55"/><circle cx="91.9" cy="195.0" r="2.55"/><circle cx="95.1" cy="195.0" r="2.55"/><circle cx="97.7" cy="195.0" r="2.55"/><circle cx="100.3" cy="195.0" r="2.55"/><circle cx="102.1" cy="195.0" r="2.55"/><circle cx="92.1" cy="195.0" r="2.55"/><circle cx="95.1" cy="195.0" r="2.55"/><circle cx="92.2" cy="199.4" r="2.55"/><circle cx="94.8" cy="199.4" r="2.55"/><circle cx="97.9" cy="199.4" r="2.55"/><circle cx="99.8" cy="199.4" r="2.55"/><circle cx="102.4" cy="199.4" r="2.55"/><circle cx="92.2" cy="199.4" r="2.55"/><circle cx="94.5" cy="199.4" r="2.55"/><circle cx="97.8" cy="199.4" r="2.55"/><circle cx="100.1" cy="199.4" r="2.55"/><circle cx="102.7" cy="199.4" r="2.55"/><circle cx="92.4" cy="199.4" r="2.55"/><circle cx="94.3" cy="199.4" r="2.55"/><circle cx="97.8" cy="199.4" r="2.55"/><circle cx="99.8" cy="199.4" r="2.55"/><circle cx="102.6" cy="199.4" r="2.55"/><circle cx="92.0" cy="199.4" r="2.55"/><circle cx="94.8" cy="199.4" r="2.55"/><circle cx="97.6" cy="199.4" r="2.55"/><circle cx="99.8" cy="199.4" r="2.55"/><circle cx="102.7" cy="199.4" r="2.55"/><circle cx="92.0" cy="204.0" r="2.55"/><circle cx="96.0" cy="204.0" r="2.55"/><circle cx="99.1" cy="204.0" r="2.55"/><circle cx="102.1" cy="204.0" r="2.55"/><circle cx="91.6" cy="204.0" r="2.55"/><circle cx="96.2" cy="204.0" r="2.55"/><circle cx="99.4" cy="204.0" r="2.55"/><circle cx="91.5" cy="208.0" r="2.55"/><circle cx="95.0" cy="208.0" r="2.55"/><circle cx="93.3" cy="217.0" r="2.55"/><circle cx="94.4" cy="217.0" r="2.55"/><circle cx="96.4" cy="217.0" r="2.55"/><circle cx="99.7" cy="217.0" r="2.55"/><circle cx="101.9" cy="217.0" r="2.55"/><circle cx="93.5" cy="217.0" r="2.55"/><circle cx="95.0" cy="217.0" r="2.55"/><circle cx="96.4" cy="217.0" r="2.55"/><circle cx="99.3" cy="217.0" r="2.55"/><circle cx="102.4" cy="217.0" r="2.55"/><circle cx="93.4" cy="217.0" r="2.55"/><circle cx="94.7" cy="217.0" r="2.55"/><circle cx="96.6" cy="217.0" r="2.55"/><circle cx="99.8" cy="217.0" r="2.55"/><circle cx="102.0" cy="217.0" r="2.55"/><circle cx="93.0" cy="217.0" r="2.55"/><circle cx="94.8" cy="217.0" r="2.55"/><circle cx="96.5" cy="217.0" r="2.55"/><circle cx="99.7" cy="217.0" r="2.55"/><circle cx="102.4" cy="217.0" r="2.55"/><circle cx="93.2" cy="217.0" r="2.55"/><circle cx="94.5" cy="217.0" r="2.55"/><circle cx="96.3" cy="217.0" r="2.55"/><circle cx="99.8" cy="217.0" r="2.55"/><circle cx="101.9" cy="217.0" r="2.55"/><circle cx="91.8" cy="221.4" r="2.55"/><circle cx="95.0" cy="221.4" r="2.55"/><circle cx="99.5" cy="221.4" r="2.55"/><circle cx="99.0" cy="224.8" r="2.55"/><circle cx="100.8" cy="224.8" r="2.55"/><circle cx="92.1" cy="229.5" r="2.55"/><circle cx="95.5" cy="229.5" r="2.55"/><circle cx="99.9" cy="229.5" r="2.55"/><circle cx="103.0" cy="229.5" r="2.55"/><circle cx="92.5" cy="229.5" r="2.55"/><circle cx="95.5" cy="229.5" r="2.55"/><circle cx="99.5" cy="229.5" r="2.55"/><circle cx="91.5" cy="234.3" r="2.55"/><circle cx="94.0" cy="234.3" r="2.55"/><circle cx="97.0" cy="234.3" r="2.55"/><circle cx="91.8" cy="238.8" r="2.55"/><circle cx="93.8" cy="238.8" r="2.55"/><circle cx="97.5" cy="238.8" r="2.55"/><circle cx="100.2" cy="238.8" r="2.55"/><circle cx="102.5" cy="238.8" r="2.55"/><circle cx="92.1" cy="238.8" r="2.55"/><circle cx="94.1" cy="238.8" r="2.55"/><circle cx="97.6" cy="238.8" r="2.55"/><circle cx="100.5" cy="238.8" r="2.55"/><circle cx="102.7" cy="238.8" r="2.55"/><circle cx="92.0" cy="238.8" r="2.55"/><circle cx="94.3" cy="238.8" r="2.55"/><circle cx="97.5" cy="238.8" r="2.55"/><circle cx="100.3" cy="238.8" r="2.55"/><circle cx="102.3" cy="238.8" r="2.55"/><circle cx="92.1" cy="238.8" r="2.55"/><circle cx="93.9" cy="238.8" r="2.55"/><circle cx="97.7" cy="238.8" r="2.55"/><circle cx="100.7" cy="238.8" r="2.55"/><circle cx="102.5" cy="238.8" r="2.55"/><circle cx="91.7" cy="238.8" r="2.55"/><circle cx="94.2" cy="238.8" r="2.55"/><circle cx="97.5" cy="238.8" r="2.55"/><circle cx="101.7" cy="247.0" r="2.55"/><circle cx="94.2" cy="247.0" r="2.55"/><circle cx="94.3" cy="247.0" r="2.55"/><circle cx="97.0" cy="247.0" r="2.55"/><circle cx="91.4" cy="252.1" r="2.55"/><circle cx="94.0" cy="252.1" r="2.55"/><circle cx="97.0" cy="252.1" r="2.55"/><circle cx="100.2" cy="252.1" r="2.55"/><circle cx="102.4" cy="252.1" r="2.55"/><circle cx="91.6" cy="252.1" r="2.55"/><circle cx="94.3" cy="252.1" r="2.55"/><circle cx="97.3" cy="252.1" r="2.55"/><circle cx="100.4" cy="252.1" r="2.55"/><circle cx="102.8" cy="252.1" r="2.55"/><circle cx="96.5" cy="259.7" r="2.55"/><circle cx="102.0" cy="259.7" r="2.55"/><circle cx="95.0" cy="259.7" r="2.55"/><circle cx="98.2" cy="259.7" r="2.55"/><circle cx="91.7" cy="265.0" r="2.55"/><circle cx="94.3" cy="265.0" r="2.55"/><circle cx="96.8" cy="265.0" r="2.55"/><circle cx="99.6" cy="265.0" r="2.55"/><circle cx="103.1" cy="265.0" r="2.55"/><circle cx="91.8" cy="265.0" r="2.55"/><circle cx="94.1" cy="265.0" r="2.55"/><circle cx="97.0" cy="265.0" r="2.55"/><circle cx="99.7" cy="265.0" r="2.55"/><circle cx="103.1" cy="265.0" r="2.55"/><circle cx="91.8" cy="265.0" r="2.55"/><circle cx="94.3" cy="265.0" r="2.55"/><circle cx="97.1" cy="265.0" r="2.55"/><circle cx="99.5" cy="265.0" r="2.55"/><circle cx="102.8" cy="265.0" r="2.55"/><circle cx="91.8" cy="265.0" r="2.55"/><circle cx="94.6" cy="265.0" r="2.55"/><circle cx="96.6" cy="265.0" r="2.55"/><circle cx="99.6" cy="265.0" r="2.55"/><circle cx="102.9" cy="265.0" r="2.55"/><circle cx="91.9" cy="265.0" r="2.55"/><circle cx="94.1" cy="265.0" r="2.55"/><circle cx="97.0" cy="265.0" r="2.55"/><circle cx="99.7" cy="265.0" r="2.55"/><circle cx="102.9" cy="265.0" r="2.55"/><circle cx="91.4" cy="269.8" r="2.55"/><circle cx="94.3" cy="269.8" r="2.55"/><circle cx="97.9" cy="269.8" r="2.55"/><circle cx="100.8" cy="269.8" r="2.55"/><circle cx="102.1" cy="269.8" r="2.55"/><circle cx="91.4" cy="269.8" r="2.55"/><circle cx="93.9" cy="269.8" r="2.55"/><circle cx="97.7" cy="269.8" r="2.55"/><circle cx="100.7" cy="269.8" r="2.55"/><circle cx="102.5" cy="269.8" r="2.55"/><circle cx="90.8" cy="282.8" r="2.55"/><circle cx="93.6" cy="282.8" r="2.55"/><circle cx="97.5" cy="282.8" r="2.55"/><circle cx="100.1" cy="282.8" r="2.55"/><circle cx="102.0" cy="282.8" r="2.55"/><circle cx="91.1" cy="282.8" r="2.55"/><circle cx="93.6" cy="282.8" r="2.55"/><circle cx="97.4" cy="282.8" r="2.55"/><circle cx="99.9" cy="282.8" r="2.55"/><circle cx="101.9" cy="282.8" r="2.55"/><circle cx="91.1" cy="282.8" r="2.55"/><circle cx="94.1" cy="282.8" r="2.55"/><circle cx="97.4" cy="282.8" r="2.55"/><circle cx="100.1" cy="282.8" r="2.55"/><circle cx="102.3" cy="282.8" r="2.55"/><circle cx="90.8" cy="282.8" r="2.55"/><circle cx="93.7" cy="282.8" r="2.55"/><circle cx="97.7" cy="282.8" r="2.55"/><circle cx="100.5" cy="282.8" r="2.55"/><circle cx="101.9" cy="282.8" r="2.55"/><circle cx="90.7" cy="282.8" r="2.55"/><circle cx="94.0" cy="282.8" r="2.55"/><circle cx="97.4" cy="282.8" r="2.55"/><circle cx="91.8" cy="299.7" r="2.55"/><circle cx="94.6" cy="299.7" r="2.55"/><circle cx="97.4" cy="299.7" r="2.55"/><circle cx="100.4" cy="299.7" r="2.55"/><circle cx="102.9" cy="299.7" r="2.55"/><circle cx="92.1" cy="299.7" r="2.55"/><circle cx="94.8" cy="299.7" r="2.55"/><circle cx="97.0" cy="299.7" r="2.55"/><circle cx="100.2" cy="299.7" r="2.55"/><circle cx="102.9" cy="299.7" r="2.55"/><circle cx="92.3" cy="299.7" r="2.55"/><circle cx="94.5" cy="299.7" r="2.55"/><circle cx="96.9" cy="299.7" r="2.55"/><circle cx="100.1" cy="299.7" r="2.55"/><circle cx="102.8" cy="299.7" r="2.55"/><circle cx="91.8" cy="299.7" r="2.55"/><circle cx="94.7" cy="299.7" r="2.55"/><circle cx="97.4" cy="299.7" r="2.55"/><circle cx="100.1" cy="299.7" r="2.55"/><circle cx="103.1" cy="299.7" r="2.55"/><circle cx="92.0" cy="299.7" r="2.55"/><circle cx="94.7" cy="299.7" r="2.55"/><circle cx="97.4" cy="299.7" r="2.55"/><circle cx="100.4" cy="299.7" r="2.55"/><circle cx="102.8" cy="299.7" r="2.55"/><circle cx="92.2" cy="299.7" r="2.55"/><circle cx="94.6" cy="299.7" r="2.55"/><circle cx="97.3" cy="299.7" r="2.55"/><circle cx="100.1" cy="299.7" r="2.55"/><circle cx="102.6" cy="299.7" r="2.55"/></g>
<g fill="rgb(15,140,25)" fill-opacity="0.22" stroke="rgb(0,45,0)" stroke-opacity="0.27" stroke-width="0.55"><circle cx="275.4" cy="64.0" r="2.55"/><circle cx="276.3" cy="64.0" r="2.55"/><circle cx="277.3" cy="64.0" r="2.55"/><circle cx="278.2" cy="64.0" r="2.55"/><circle cx="279.2" cy="64.0" r="2.55"/><circle cx="279.8" cy="64.0" r="2.55"/><circle cx="280.7" cy="64.0" r="2.55"/><circle cx="277.8" cy="64.0" r="2.55"/><circle cx="285.8" cy="64.0" r="2.55"/><circle cx="277.9" cy="98.5" r="2.55"/><circle cx="281.5" cy="98.5" r="2.55"/><circle cx="274.4" cy="102.9" r="2.55"/><circle cx="278.8" cy="129.3" r="2.55"/><circle cx="281.0" cy="129.3" r="2.55"/><circle cx="282.2" cy="129.3" r="2.55"/><circle cx="283.2" cy="129.3" r="2.55"/><circle cx="284.3" cy="129.3" r="2.55"/><circle cx="283.6" cy="129.3" r="2.55"/><circle cx="275.8" cy="133.6" r="2.55"/><circle cx="282.0" cy="133.6" r="2.55"/><circle cx="283.9" cy="133.6" r="2.55"/><circle cx="283.0" cy="146.2" r="2.55"/><circle cx="274.6" cy="159.2" r="2.55"/><circle cx="278.0" cy="159.2" r="2.55"/><circle cx="281.0" cy="159.2" r="2.55"/><circle cx="284.0" cy="159.2" r="2.55"/><circle cx="274.6" cy="163.9" r="2.55"/><circle cx="277.5" cy="163.9" r="2.55"/><circle cx="279.0" cy="163.9" r="2.55"/><circle cx="280.5" cy="163.9" r="2.55"/><circle cx="281.5" cy="163.9" r="2.55"/><circle cx="282.5" cy="163.9" r="2.55"/><circle cx="283.5" cy="163.9" r="2.55"/><circle cx="284.0" cy="163.9" r="2.55"/><circle cx="282.0" cy="163.9" r="2.55"/><circle cx="276.5" cy="168.7" r="2.55"/><circle cx="279.5" cy="168.7" r="2.55"/><circle cx="282.0" cy="168.7" r="2.55"/><circle cx="285.0" cy="168.7" r="2.55"/><circle cx="284.3" cy="177.4" r="2.55"/><circle cx="284.0" cy="177.4" r="2.55"/><circle cx="277.5" cy="181.6" r="2.55"/><circle cx="280.0" cy="181.6" r="2.55"/><circle cx="282.0" cy="181.6" r="2.55"/><circle cx="283.0" cy="181.6" r="2.55"/><circle cx="285.0" cy="181.6" r="2.55"/><circle cx="274.6" cy="190.1" r="2.55"/><circle cx="278.0" cy="190.1" r="2.55"/><circle cx="281.0" cy="190.1" r="2.55"/><circle cx="283.0" cy="190.1" r="2.55"/><circle cx="285.0" cy="190.1" r="2.55"/><circle cx="276.0" cy="194.8" r="2.55"/><circle cx="279.0" cy="194.8" r="2.55"/><circle cx="281.5" cy="194.8" r="2.55"/><circle cx="284.0" cy="194.8" r="2.55"/><circle cx="275.2" cy="199.6" r="2.55"/><circle cx="278.3" cy="199.6" r="2.55"/><circle cx="280.4" cy="199.6" r="2.55"/><circle cx="282.6" cy="199.6" r="2.55"/><circle cx="286.8" cy="199.6" r="2.55"/><circle cx="275.7" cy="199.6" r="2.55"/><circle cx="278.1" cy="199.6" r="2.55"/><circle cx="280.8" cy="199.6" r="2.55"/><circle cx="282.5" cy="199.6" r="2.55"/><circle cx="286.7" cy="199.6" r="2.55"/><circle cx="275.5" cy="199.6" r="2.55"/><circle cx="277.9" cy="199.6" r="2.55"/><circle cx="280.6" cy="199.6" r="2.55"/><circle cx="282.5" cy="199.6" r="2.55"/><circle cx="286.7" cy="199.6" r="2.55"/><circle cx="275.5" cy="199.6" r="2.55"/><circle cx="277.7" cy="199.6" r="2.55"/><circle cx="280.4" cy="199.6" r="2.55"/><circle cx="282.6" cy="199.6" r="2.55"/><circle cx="286.5" cy="199.6" r="2.55"/><circle cx="275.3" cy="199.6" r="2.55"/><circle cx="277.9" cy="199.6" r="2.55"/><circle cx="280.6" cy="199.6" r="2.55"/><circle cx="282.5" cy="199.6" r="2.55"/><circle cx="286.7" cy="199.6" r="2.55"/><circle cx="275.4" cy="199.6" r="2.55"/><circle cx="277.9" cy="199.6" r="2.55"/><circle cx="275.7" cy="204.0" r="2.55"/><circle cx="277.3" cy="204.0" r="2.55"/><circle cx="281.3" cy="204.0" r="2.55"/><circle cx="283.0" cy="204.0" r="2.55"/><circle cx="286.3" cy="204.0" r="2.55"/><circle cx="275.3" cy="204.0" r="2.55"/><circle cx="277.5" cy="204.0" r="2.55"/><circle cx="281.4" cy="204.0" r="2.55"/><circle cx="282.8" cy="204.0" r="2.55"/><circle cx="286.2" cy="204.0" r="2.55"/><circle cx="275.5" cy="204.0" r="2.55"/><circle cx="277.2" cy="204.0" r="2.55"/><circle cx="281.1" cy="204.0" r="2.55"/><circle cx="282.9" cy="204.0" r="2.55"/><circle cx="285.9" cy="204.0" r="2.55"/><circle cx="275.4" cy="204.0" r="2.55"/><circle cx="277.4" cy="204.0" r="2.55"/><circle cx="280.9" cy="204.0" r="2.55"/><circle cx="282.8" cy="204.0" r="2.55"/><circle cx="285.9" cy="204.0" r="2.55"/><circle cx="275.6" cy="204.0" r="2.55"/><circle cx="277.2" cy="204.0" r="2.55"/><circle cx="281.4" cy="204.0" r="2.55"/><circle cx="282.5" cy="204.0" r="2.55"/><circle cx="286.2" cy="204.0" r="2.55"/><circle cx="275.4" cy="204.0" r="2.55"/><circle cx="277.6" cy="204.0" r="2.55"/><circle cx="276.0" cy="212.0" r="2.55"/><circle cx="279.0" cy="212.0" r="2.55"/><circle cx="282.0" cy="212.0" r="2.55"/><circle cx="284.0" cy="212.0" r="2.55"/><circle cx="287.0" cy="212.0" r="2.55"/><circle cx="278.5" cy="216.7" r="2.55"/><circle cx="280.5" cy="216.7" r="2.55"/><circle cx="282.0" cy="216.7" r="2.55"/><circle cx="284.0" cy="216.7" r="2.55"/><circle cx="285.0" cy="216.7" r="2.55"/><circle cx="278.5" cy="220.5" r="2.55"/><circle cx="280.5" cy="220.5" r="2.55"/><circle cx="283.0" cy="220.5" r="2.55"/><circle cx="279.5" cy="224.5" r="2.55"/><circle cx="282.0" cy="224.5" r="2.55"/><circle cx="284.0" cy="224.5" r="2.55"/><circle cx="275.3" cy="229.5" r="2.55"/><circle cx="277.3" cy="229.5" r="2.55"/><circle cx="281.2" cy="229.5" r="2.55"/><circle cx="283.5" cy="229.5" r="2.55"/><circle cx="285.6" cy="229.5" r="2.55"/><circle cx="275.0" cy="229.5" r="2.55"/><circle cx="277.3" cy="229.5" r="2.55"/><circle cx="281.2" cy="229.5" r="2.55"/><circle cx="283.5" cy="229.5" r="2.55"/><circle cx="285.7" cy="229.5" r="2.55"/><circle cx="275.3" cy="229.5" r="2.55"/><circle cx="277.7" cy="229.5" r="2.55"/><circle cx="281.1" cy="229.5" r="2.55"/><circle cx="283.3" cy="229.5" r="2.55"/><circle cx="285.4" cy="229.5" r="2.55"/><circle cx="274.9" cy="229.5" r="2.55"/><circle cx="277.4" cy="229.5" r="2.55"/><circle cx="281.3" cy="229.5" r="2.55"/><circle cx="283.7" cy="229.5" r="2.55"/><circle cx="285.3" cy="229.5" r="2.55"/><circle cx="275.4" cy="229.5" r="2.55"/><circle cx="277.6" cy="229.5" r="2.55"/><circle cx="281.3" cy="229.5" r="2.55"/><circle cx="283.7" cy="229.5" r="2.55"/><circle cx="285.5" cy="229.5" r="2.55"/><circle cx="275.2" cy="229.5" r="2.55"/><circle cx="277.5" cy="229.5" r="2.55"/><circle cx="274.5" cy="234.2" r="2.55"/><circle cx="277.3" cy="234.2" r="2.55"/><circle cx="280.6" cy="234.2" r="2.55"/><circle cx="283.0" cy="234.2" r="2.55"/><circle cx="285.6" cy="234.2" r="2.55"/><circle cx="274.3" cy="234.2" r="2.55"/><circle cx="277.5" cy="234.2" r="2.55"/><circle cx="280.7" cy="234.2" r="2.55"/><circle cx="283.0" cy="234.2" r="2.55"/><circle cx="285.5" cy="234.2" r="2.55"/><circle cx="274.9" cy="234.2" r="2.55"/><circle cx="277.4" cy="234.2" r="2.55"/><circle cx="280.7" cy="234.2" r="2.55"/><circle cx="283.2" cy="234.2" r="2.55"/><circle cx="285.6" cy="234.2" r="2.55"/><circle cx="274.8" cy="234.2" r="2.55"/><circle cx="277.1" cy="234.2" r="2.55"/><circle cx="280.3" cy="234.2" r="2.55"/><circle cx="282.9" cy="234.2" r="2.55"/><circle cx="285.3" cy="234.2" r="2.55"/><circle cx="274.5" cy="234.2" r="2.55"/><circle cx="277.2" cy="234.2" r="2.55"/><circle cx="280.9" cy="234.2" r="2.55"/><circle cx="282.9" cy="234.2" r="2.55"/><circle cx="285.3" cy="234.2" r="2.55"/><circle cx="274.8" cy="234.2" r="2.55"/><circle cx="277.0" cy="234.2" r="2.55"/><circle cx="275.4" cy="239.0" r="2.55"/><circle cx="278.0" cy="239.0" r="2.55"/><circle cx="280.8" cy="239.0" r="2.55"/><circle cx="283.6" cy="239.0" r="2.55"/><circle cx="285.5" cy="239.0" r="2.55"/><circle cx="275.3" cy="239.0" r="2.55"/><circle cx="277.8" cy="239.0" r="2.55"/><circle cx="280.8" cy="239.0" r="2.55"/><circle cx="283.9" cy="239.0" r="2.55"/><circle cx="285.8" cy="239.0" r="2.55"/><circle cx="274.9" cy="239.0" r="2.55"/><circle cx="277.8" cy="239.0" r="2.55"/><circle cx="281.1" cy="239.0" r="2.55"/><circle cx="283.9" cy="239.0" r="2.55"/><circle cx="285.3" cy="239.0" r="2.55"/><circle cx="275.1" cy="239.0" r="2.55"/><circle cx="277.8" cy="239.0" r="2.55"/><circle cx="275.2" cy="252.3" r="2.55"/><circle cx="277.2" cy="252.3" r="2.55"/><circle cx="279.9" cy="252.3" r="2.55"/><circle cx="283.5" cy="252.3" r="2.55"/><circle cx="286.4" cy="252.3" r="2.55"/><circle cx="275.3" cy="252.3" r="2.55"/><circle cx="277.4" cy="252.3" r="2.55"/><circle cx="280.3" cy="252.3" r="2.55"/><circle cx="283.2" cy="252.3" r="2.55"/><circle cx="286.5" cy="252.3" r="2.55"/><circle cx="275.4" cy="252.3" r="2.55"/><circle cx="277.4" cy="252.3" r="2.55"/><circle cx="280.1" cy="252.3" r="2.55"/><circle cx="283.5" cy="252.3" r="2.55"/><circle cx="286.3" cy="252.3" r="2.55"/><circle cx="275.4" cy="252.3" r="2.55"/><circle cx="277.2" cy="252.3" r="2.55"/><circle cx="276.1" cy="264.6" r="2.55"/><circle cx="277.7" cy="264.6" r="2.55"/><circle cx="281.4" cy="264.6" r="2.55"/><circle cx="283.6" cy="264.6" r="2.55"/><circle cx="285.2" cy="264.6" r="2.55"/><circle cx="275.6" cy="264.6" r="2.55"/><circle cx="277.8" cy="264.6" r="2.55"/><circle cx="281.2" cy="264.6" r="2.55"/><circle cx="283.4" cy="264.6" r="2.55"/><circle cx="285.3" cy="264.6" r="2.55"/><circle cx="275.7" cy="264.6" r="2.55"/><circle cx="278.1" cy="264.6" r="2.55"/><circle cx="281.3" cy="264.6" r="2.55"/><circle cx="283.5" cy="264.6" r="2.55"/><circle cx="285.3" cy="264.6" r="2.55"/><circle cx="275.6" cy="264.6" r="2.55"/><circle cx="277.7" cy="264.6" r="2.55"/><circle cx="281.5" cy="264.6" r="2.55"/><circle cx="275.4" cy="269.3" r="2.55"/><circle cx="283.9" cy="269.3" r="2.55"/><circle cx="284.2" cy="269.3" r="2.55"/><circle cx="275.3" cy="299.9" r="2.55"/><circle cx="277.0" cy="299.9" r="2.55"/><circle cx="280.6" cy="299.9" r="2.55"/><circle cx="283.3" cy="299.9" r="2.55"/><circle cx="286.3" cy="299.9" r="2.55"/><circle cx="275.6" cy="299.9" r="2.55"/><circle cx="277.4" cy="299.9" r="2.55"/><circle cx="280.4" cy="299.9" r="2.55"/><circle cx="283.7" cy="299.9" r="2.55"/><circle cx="286.7" cy="299.9" r="2.55"/><circle cx="275.4" cy="299.9" r="2.55"/><circle cx="277.5" cy="299.9" r="2.55"/><circle cx="280.5" cy="299.9" r="2.55"/><circle cx="283.5" cy="299.9" r="2.55"/><circle cx="286.7" cy="299.9" r="2.55"/><circle cx="275.6" cy="299.9" r="2.55"/><circle cx="277.1" cy="299.9" r="2.55"/><circle cx="280.5" cy="299.9" r="2.55"/><circle cx="283.5" cy="299.9" r="2.55"/><circle cx="286.4" cy="299.9" r="2.55"/><circle cx="275.6" cy="299.9" r="2.55"/><circle cx="277.2" cy="299.9" r="2.55"/></g>
<g fill="rgb(222,20,30)" fill-opacity="0.22" stroke="rgb(60,0,0)" stroke-opacity="0.27" stroke-width="0.55"><circle cx="459.5" cy="55.4" r="2.55"/><circle cx="459.5" cy="55.4" r="2.55"/><circle cx="459.5" cy="55.4" r="2.55"/><circle cx="461.8" cy="125.4" r="2.55"/><circle cx="453.8" cy="130.0" r="2.55"/><circle cx="454.2" cy="130.0" r="2.55"/><circle cx="454.6" cy="130.0" r="2.55"/><circle cx="454.2" cy="130.0" r="2.55"/><circle cx="458.0" cy="130.0" r="2.55"/><circle cx="461.0" cy="130.0" r="2.55"/><circle cx="463.5" cy="130.0" r="2.55"/><circle cx="465.3" cy="130.0" r="2.55"/><circle cx="457.0" cy="150.5" r="2.55"/><circle cx="454.3" cy="154.6" r="2.55"/><circle cx="454.7" cy="154.6" r="2.55"/><circle cx="455.0" cy="154.6" r="2.55"/><circle cx="454.7" cy="154.6" r="2.55"/><circle cx="458.2" cy="154.6" r="2.55"/><circle cx="458.5" cy="154.6" r="2.55"/><circle cx="458.8" cy="154.6" r="2.55"/><circle cx="458.5" cy="154.6" r="2.55"/><circle cx="462.4" cy="154.6" r="2.55"/><circle cx="462.7" cy="154.6" r="2.55"/><circle cx="463.0" cy="154.6" r="2.55"/><circle cx="454.5" cy="175.0" r="2.55"/><circle cx="458.0" cy="175.0" r="2.55"/><circle cx="461.0" cy="175.0" r="2.55"/><circle cx="463.5" cy="175.0" r="2.55"/><circle cx="466.0" cy="175.0" r="2.55"/><circle cx="453.6" cy="179.4" r="2.55"/><circle cx="455.9" cy="179.4" r="2.55"/><circle cx="459.3" cy="179.4" r="2.55"/><circle cx="462.7" cy="179.4" r="2.55"/><circle cx="465.7" cy="179.4" r="2.55"/><circle cx="453.5" cy="179.4" r="2.55"/><circle cx="456.3" cy="179.4" r="2.55"/><circle cx="459.1" cy="179.4" r="2.55"/><circle cx="462.9" cy="179.4" r="2.55"/><circle cx="465.7" cy="179.4" r="2.55"/><circle cx="453.5" cy="179.4" r="2.55"/><circle cx="456.0" cy="179.4" r="2.55"/><circle cx="459.3" cy="179.4" r="2.55"/><circle cx="462.7" cy="179.4" r="2.55"/><circle cx="465.2" cy="179.4" r="2.55"/><circle cx="453.8" cy="179.4" r="2.55"/><circle cx="456.0" cy="179.4" r="2.55"/><circle cx="459.0" cy="179.4" r="2.55"/><circle cx="462.5" cy="179.4" r="2.55"/><circle cx="465.4" cy="179.4" r="2.55"/><circle cx="453.5" cy="179.4" r="2.55"/><circle cx="456.2" cy="179.4" r="2.55"/><circle cx="459.0" cy="179.4" r="2.55"/><circle cx="453.4" cy="253.9" r="2.55"/><circle cx="457.4" cy="253.9" r="2.55"/><circle cx="458.9" cy="253.9" r="2.55"/><circle cx="462.4" cy="253.9" r="2.55"/><circle cx="464.7" cy="253.9" r="2.55"/><circle cx="453.4" cy="253.9" r="2.55"/><circle cx="457.2" cy="253.9" r="2.55"/><circle cx="459.4" cy="253.9" r="2.55"/><circle cx="462.8" cy="253.9" r="2.55"/><circle cx="465.1" cy="253.9" r="2.55"/><circle cx="453.3" cy="253.9" r="2.55"/><circle cx="457.4" cy="253.9" r="2.55"/><circle cx="459.3" cy="253.9" r="2.55"/><circle cx="462.7" cy="253.9" r="2.55"/><circle cx="465.2" cy="253.9" r="2.55"/><circle cx="453.1" cy="253.9" r="2.55"/><circle cx="457.0" cy="253.9" r="2.55"/><circle cx="459.3" cy="253.9" r="2.55"/><circle cx="462.3" cy="253.9" r="2.55"/><circle cx="464.8" cy="253.9" r="2.55"/><circle cx="465.0" cy="263.8" r="2.55"/><circle cx="455.5" cy="274.4" r="2.55"/><circle cx="459.0" cy="274.4" r="2.55"/><circle cx="463.5" cy="274.4" r="2.55"/><circle cx="453.7" cy="278.9" r="2.55"/><circle cx="457.2" cy="278.9" r="2.55"/><circle cx="458.6" cy="278.9" r="2.55"/><circle cx="462.0" cy="278.9" r="2.55"/><circle cx="464.5" cy="278.9" r="2.55"/><circle cx="453.6" cy="278.9" r="2.55"/><circle cx="456.9" cy="278.9" r="2.55"/><circle cx="458.5" cy="278.9" r="2.55"/><circle cx="462.0" cy="278.9" r="2.55"/><circle cx="464.6" cy="278.9" r="2.55"/><circle cx="453.5" cy="278.9" r="2.55"/><circle cx="457.0" cy="278.9" r="2.55"/><circle cx="458.6" cy="278.9" r="2.55"/><circle cx="461.5" cy="278.9" r="2.55"/><circle cx="464.6" cy="278.9" r="2.55"/><circle cx="453.8" cy="278.9" r="2.55"/><circle cx="457.0" cy="278.9" r="2.55"/><circle cx="458.4" cy="278.9" r="2.55"/><circle cx="461.8" cy="278.9" r="2.55"/><circle cx="464.4" cy="278.9" r="2.55"/><circle cx="453.4" cy="278.9" r="2.55"/><circle cx="456.9" cy="278.9" r="2.55"/><circle cx="454.5" cy="283.9" r="2.55"/><circle cx="457.5" cy="283.9" r="2.55"/><circle cx="460.0" cy="283.9" r="2.55"/><circle cx="463.0" cy="283.9" r="2.55"/><circle cx="455.0" cy="288.3" r="2.55"/><circle cx="457.5" cy="288.3" r="2.55"/><circle cx="460.5" cy="288.3" r="2.55"/><circle cx="454.5" cy="294.5" r="2.55"/><circle cx="457.0" cy="294.5" r="2.55"/><circle cx="459.5" cy="294.5" r="2.55"/><circle cx="462.0" cy="294.5" r="2.55"/><circle cx="464.0" cy="294.5" r="2.55"/><circle cx="454.2" cy="299.1" r="2.55"/><circle cx="456.8" cy="299.1" r="2.55"/><circle cx="459.4" cy="299.1" r="2.55"/><circle cx="462.7" cy="299.1" r="2.55"/><circle cx="464.2" cy="299.1" r="2.55"/><circle cx="454.4" cy="299.1" r="2.55"/><circle cx="457.3" cy="299.1" r="2.55"/><circle cx="459.6" cy="299.1" r="2.55"/><circle cx="462.5" cy="299.1" r="2.55"/><circle cx="464.4" cy="299.1" r="2.55"/><circle cx="454.1" cy="299.1" r="2.55"/><circle cx="457.3" cy="299.1" r="2.55"/><circle cx="459.6" cy="299.1" r="2.55"/><circle cx="462.4" cy="299.1" r="2.55"/><circle cx="464.1" cy="299.1" r="2.55"/><circle cx="454.1" cy="299.1" r="2.55"/><circle cx="457.2" cy="299.1" r="2.55"/><circle cx="459.4" cy="299.1" r="2.55"/><circle cx="462.4" cy="299.1" r="2.55"/><circle cx="464.3" cy="299.1" r="2.55"/><circle cx="452.6" cy="303.5" r="2.55"/><circle cx="455.7" cy="303.5" r="2.55"/><circle cx="459.4" cy="303.5" r="2.55"/><circle cx="462.5" cy="303.5" r="2.55"/><circle cx="465.6" cy="303.5" r="2.55"/><circle cx="452.4" cy="303.5" r="2.55"/><circle cx="455.8" cy="303.5" r="2.55"/><circle cx="459.7" cy="303.5" r="2.55"/><circle cx="462.4" cy="303.5" r="2.55"/><circle cx="465.8" cy="303.5" r="2.55"/><circle cx="452.8" cy="303.5" r="2.55"/><circle cx="456.0" cy="303.5" r="2.55"/><circle cx="459.8" cy="303.5" r="2.55"/><circle cx="462.4" cy="303.5" r="2.55"/><circle cx="465.6" cy="303.5" r="2.55"/><circle cx="452.6" cy="303.5" r="2.55"/><circle cx="456.3" cy="303.5" r="2.55"/><circle cx="459.7" cy="303.5" r="2.55"/><circle cx="462.4" cy="303.5" r="2.55"/><circle cx="465.6" cy="303.5" r="2.55"/><circle cx="452.8" cy="303.5" r="2.55"/><circle cx="456.1" cy="303.5" r="2.55"/><circle cx="459.5" cy="303.5" r="2.55"/><circle cx="462.6" cy="303.5" r="2.55"/><circle cx="465.8" cy="303.5" r="2.55"/><circle cx="452.6" cy="303.5" r="2.55"/><circle cx="456.1" cy="303.5" r="2.55"/><circle cx="460.0" cy="303.5" r="2.55"/><circle cx="462.5" cy="303.5" r="2.55"/><circle cx="465.9" cy="303.5" r="2.55"/><circle cx="452.4" cy="303.5" r="2.55"/><circle cx="456.0" cy="303.5" r="2.55"/><circle cx="459.8" cy="303.5" r="2.55"/><circle cx="462.5" cy="303.5" r="2.55"/></g>
<g fill="rgb(15,140,25)" fill-opacity="0.22" stroke="rgb(0,45,0)" stroke-opacity="0.27" stroke-width="0.55"><circle cx="647.9" cy="55.6" r="2.55"/><circle cx="637.0" cy="130.0" r="2.55"/><circle cx="641.8" cy="130.0" r="2.55"/><circle cx="641.6" cy="130.0" r="2.55"/><circle cx="646.0" cy="130.0" r="2.55"/><circle cx="646.2" cy="130.0" r="2.55"/><circle cx="645.8" cy="130.0" r="2.55"/><circle cx="637.4" cy="154.7" r="2.55"/><circle cx="640.9" cy="154.7" r="2.55"/><circle cx="641.0" cy="154.7" r="2.55"/><circle cx="645.4" cy="154.7" r="2.55"/><circle cx="645.2" cy="154.7" r="2.55"/><circle cx="645.6" cy="154.7" r="2.55"/><circle cx="647.9" cy="154.7" r="2.55"/><circle cx="638.4" cy="179.4" r="2.55"/><circle cx="638.6" cy="179.4" r="2.55"/><circle cx="638.2" cy="179.4" r="2.55"/><circle cx="643.0" cy="179.4" r="2.55"/><circle cx="647.3" cy="179.4" r="2.55"/><circle cx="647.1" cy="179.4" r="2.55"/><circle cx="647.5" cy="179.4" r="2.55"/><circle cx="646.0" cy="238.7" r="2.55"/><circle cx="637.0" cy="249.2" r="2.55"/><circle cx="640.0" cy="249.2" r="2.55"/><circle cx="643.0" cy="249.2" r="2.55"/><circle cx="646.0" cy="249.2" r="2.55"/><circle cx="648.5" cy="249.2" r="2.55"/><circle cx="637.1" cy="253.9" r="2.55"/><circle cx="639.8" cy="253.9" r="2.55"/><circle cx="643.3" cy="253.9" r="2.55"/><circle cx="646.2" cy="253.9" r="2.55"/><circle cx="647.9" cy="253.9" r="2.55"/><circle cx="636.9" cy="253.9" r="2.55"/><circle cx="640.0" cy="253.9" r="2.55"/><circle cx="643.0" cy="253.9" r="2.55"/><circle cx="646.2" cy="253.9" r="2.55"/><circle cx="648.0" cy="253.9" r="2.55"/><circle cx="636.9" cy="253.9" r="2.55"/><circle cx="640.0" cy="253.9" r="2.55"/><circle cx="643.4" cy="253.9" r="2.55"/><circle cx="646.2" cy="253.9" r="2.55"/><circle cx="648.1" cy="253.9" r="2.55"/><circle cx="637.1" cy="253.9" r="2.55"/><circle cx="640.0" cy="253.9" r="2.55"/><circle cx="643.3" cy="253.9" r="2.55"/><circle cx="646.1" cy="253.9" r="2.55"/><circle cx="648.1" cy="253.9" r="2.55"/><circle cx="637.0" cy="253.9" r="2.55"/><circle cx="640.3" cy="253.9" r="2.55"/><circle cx="643.3" cy="253.9" r="2.55"/><circle cx="646.0" cy="253.9" r="2.55"/><circle cx="648.0" cy="253.9" r="2.55"/><circle cx="640.5" cy="263.4" r="2.55"/><circle cx="644.0" cy="263.4" r="2.55"/><circle cx="644.3" cy="263.4" r="2.55"/><circle cx="647.5" cy="263.4" r="2.55"/><circle cx="636.5" cy="270.0" r="2.55"/><circle cx="647.0" cy="270.0" r="2.55"/><circle cx="636.6" cy="274.4" r="2.55"/><circle cx="640.9" cy="274.4" r="2.55"/><circle cx="645.2" cy="274.4" r="2.55"/><circle cx="647.7" cy="274.4" r="2.55"/><circle cx="636.5" cy="274.4" r="2.55"/><circle cx="641.0" cy="274.4" r="2.55"/><circle cx="645.2" cy="274.4" r="2.55"/><circle cx="637.4" cy="278.5" r="2.55"/><circle cx="640.8" cy="278.5" r="2.55"/><circle cx="643.3" cy="278.5" r="2.55"/><circle cx="645.4" cy="278.5" r="2.55"/><circle cx="649.3" cy="278.5" r="2.55"/><circle cx="637.7" cy="278.5" r="2.55"/><circle cx="640.6" cy="278.5" r="2.55"/><circle cx="643.4" cy="278.5" r="2.55"/><circle cx="645.7" cy="278.5" r="2.55"/><circle cx="649.0" cy="278.5" r="2.55"/><circle cx="637.7" cy="278.5" r="2.55"/><circle cx="640.4" cy="278.5" r="2.55"/><circle cx="643.6" cy="278.5" r="2.55"/><circle cx="645.3" cy="278.5" r="2.55"/><circle cx="648.7" cy="278.5" r="2.55"/><circle cx="637.4" cy="278.5" r="2.55"/><circle cx="640.9" cy="278.5" r="2.55"/><circle cx="643.5" cy="278.5" r="2.55"/><circle cx="645.2" cy="278.5" r="2.55"/><circle cx="649.2" cy="278.5" r="2.55"/><circle cx="637.6" cy="278.5" r="2.55"/><circle cx="640.8" cy="278.5" r="2.55"/><circle cx="643.4" cy="278.5" r="2.55"/><circle cx="645.6" cy="278.5" r="2.55"/><circle cx="649.2" cy="278.5" r="2.55"/><circle cx="637.0" cy="283.9" r="2.55"/><circle cx="640.0" cy="283.9" r="2.55"/><circle cx="643.5" cy="283.9" r="2.55"/><circle cx="647.0" cy="283.9" r="2.55"/><circle cx="637.5" cy="288.3" r="2.55"/><circle cx="641.0" cy="288.3" r="2.55"/><circle cx="641.3" cy="288.3" r="2.55"/><circle cx="644.0" cy="288.3" r="2.55"/><circle cx="647.0" cy="288.3" r="2.55"/><circle cx="636.5" cy="294.5" r="2.55"/><circle cx="646.0" cy="294.5" r="2.55"/><circle cx="646.3" cy="294.5" r="2.55"/><circle cx="637.2" cy="299.1" r="2.55"/><circle cx="640.4" cy="299.1" r="2.55"/><circle cx="642.4" cy="299.1" r="2.55"/><circle cx="645.6" cy="299.1" r="2.55"/><circle cx="648.8" cy="299.1" r="2.55"/><circle cx="636.7" cy="299.1" r="2.55"/><circle cx="640.5" cy="299.1" r="2.55"/><circle cx="642.4" cy="299.1" r="2.55"/><circle cx="645.3" cy="299.1" r="2.55"/><circle cx="648.7" cy="299.1" r="2.55"/><circle cx="636.9" cy="299.1" r="2.55"/><circle cx="640.0" cy="299.1" r="2.55"/><circle cx="642.4" cy="299.1" r="2.55"/><circle cx="645.3" cy="299.1" r="2.55"/><circle cx="648.7" cy="299.1" r="2.55"/><circle cx="637.1" cy="299.1" r="2.55"/><circle cx="640.6" cy="299.1" r="2.55"/><circle cx="642.3" cy="299.1" r="2.55"/><circle cx="645.4" cy="299.1" r="2.55"/><circle cx="648.3" cy="299.1" r="2.55"/><circle cx="636.7" cy="299.1" r="2.55"/><circle cx="640.4" cy="299.1" r="2.55"/><circle cx="642.1" cy="299.1" r="2.55"/><circle cx="645.5" cy="299.1" r="2.55"/><circle cx="648.4" cy="299.1" r="2.55"/><circle cx="637.1" cy="299.1" r="2.55"/><circle cx="640.1" cy="299.1" r="2.55"/><circle cx="642.4" cy="299.1" r="2.55"/><circle cx="645.4" cy="299.1" r="2.55"/><circle cx="648.8" cy="299.1" r="2.55"/><circle cx="636.7" cy="303.5" r="2.55"/><circle cx="640.7" cy="303.5" r="2.55"/><circle cx="642.7" cy="303.5" r="2.55"/><circle cx="645.5" cy="303.5" r="2.55"/><circle cx="649.0" cy="303.5" r="2.55"/><circle cx="636.6" cy="303.5" r="2.55"/><circle cx="640.8" cy="303.5" r="2.55"/><circle cx="642.7" cy="303.5" r="2.55"/><circle cx="645.8" cy="303.5" r="2.55"/><circle cx="648.4" cy="303.5" r="2.55"/><circle cx="636.7" cy="303.5" r="2.55"/><circle cx="640.5" cy="303.5" r="2.55"/><circle cx="643.0" cy="303.5" r="2.55"/><circle cx="645.4" cy="303.5" r="2.55"/><circle cx="648.5" cy="303.5" r="2.55"/><circle cx="637.0" cy="303.5" r="2.55"/><circle cx="640.8" cy="303.5" r="2.55"/><circle cx="643.1" cy="303.5" r="2.55"/><circle cx="645.8" cy="303.5" r="2.55"/><circle cx="648.8" cy="303.5" r="2.55"/><circle cx="636.8" cy="303.5" r="2.55"/><circle cx="640.5" cy="303.5" r="2.55"/><circle cx="643.1" cy="303.5" r="2.55"/><circle cx="645.7" cy="303.5" r="2.55"/><circle cx="648.5" cy="303.5" r="2.55"/><circle cx="637.1" cy="303.5" r="2.55"/><circle cx="640.4" cy="303.5" r="2.55"/><circle cx="643.1" cy="303.5" r="2.55"/><circle cx="645.5" cy="303.5" r="2.55"/><circle cx="648.9" cy="303.5" r="2.55"/><circle cx="636.9" cy="303.5" r="2.55"/><circle cx="640.9" cy="303.5" r="2.55"/><circle cx="643.0" cy="303.5" r="2.55"/><circle cx="645.9" cy="303.5" r="2.55"/></g>
<rect x="57.7" y="8.2" width="261.7" height="343.0" fill="none" stroke="#d5d5d5" stroke-width="1.5"/>
<rect x="420.3" y="8.2" width="261.6" height="343.0" fill="none" stroke="#d5d5d5" stroke-width="1.5"/>
<defs><filter id="gs" x="0" y="0" width="685" height="371" filterUnits="userSpaceOnUse" color-interpolation-filters="sRGB"><feColorMatrix type="saturate" values="0"/></filter></defs>
<g font-family="Liberation Serif, serif" fill="#000" filter="url(#gs)">
<text x="51.6" y="15.1" font-size="20.5" text-anchor="end">2.5</text>
<text x="51.6" y="64.7" font-size="20.5" text-anchor="end">2.0</text>
<text x="51.6" y="135.4" font-size="20.5" text-anchor="end">1.5</text>
<text x="51.6" y="206.1" font-size="20.5" text-anchor="end">1.0</text>
<text x="51.6" y="276.8" font-size="20.5" text-anchor="end">0.5</text>
<text x="51.6" y="347.5" font-size="20.5" text-anchor="end">0.0</text>
<text x="413.6" y="37.1" font-size="20.5" text-anchor="end">6</text>
<text x="413.6" y="87.6" font-size="20.5" text-anchor="end">5</text>
<text x="413.6" y="138.1" font-size="20.5" text-anchor="end">4</text>
<text x="413.6" y="188.6" font-size="20.5" text-anchor="end">3</text>
<text x="413.6" y="239.1" font-size="20.5" text-anchor="end">2</text>
<text x="413.6" y="289.6" font-size="20.5" text-anchor="end">1</text>
<text x="413.6" y="340.1" font-size="20.5" text-anchor="end">0</text>
<text x="123.7" y="370.3" font-size="21.7" text-anchor="middle">Baseline</text>
<text x="254.3" y="370.3" font-size="21.8" text-anchor="middle">Power-aware</text>
<text x="486.4" y="370.3" font-size="21.7" text-anchor="middle">Baseline</text>
<text x="617.2" y="370.3" font-size="21.8" text-anchor="middle">Power-aware</text>
<text transform="translate(15,179) rotate(-90)" font-size="21.5" font-weight="bold" font-style="italic" text-anchor="middle">Cost</text>
<text transform="translate(377.6,180) rotate(-90)" font-size="21.9" font-weight="bold" font-style="italic" text-anchor="middle">Comlexity</text>
</g>
</svg>
</body></html>
